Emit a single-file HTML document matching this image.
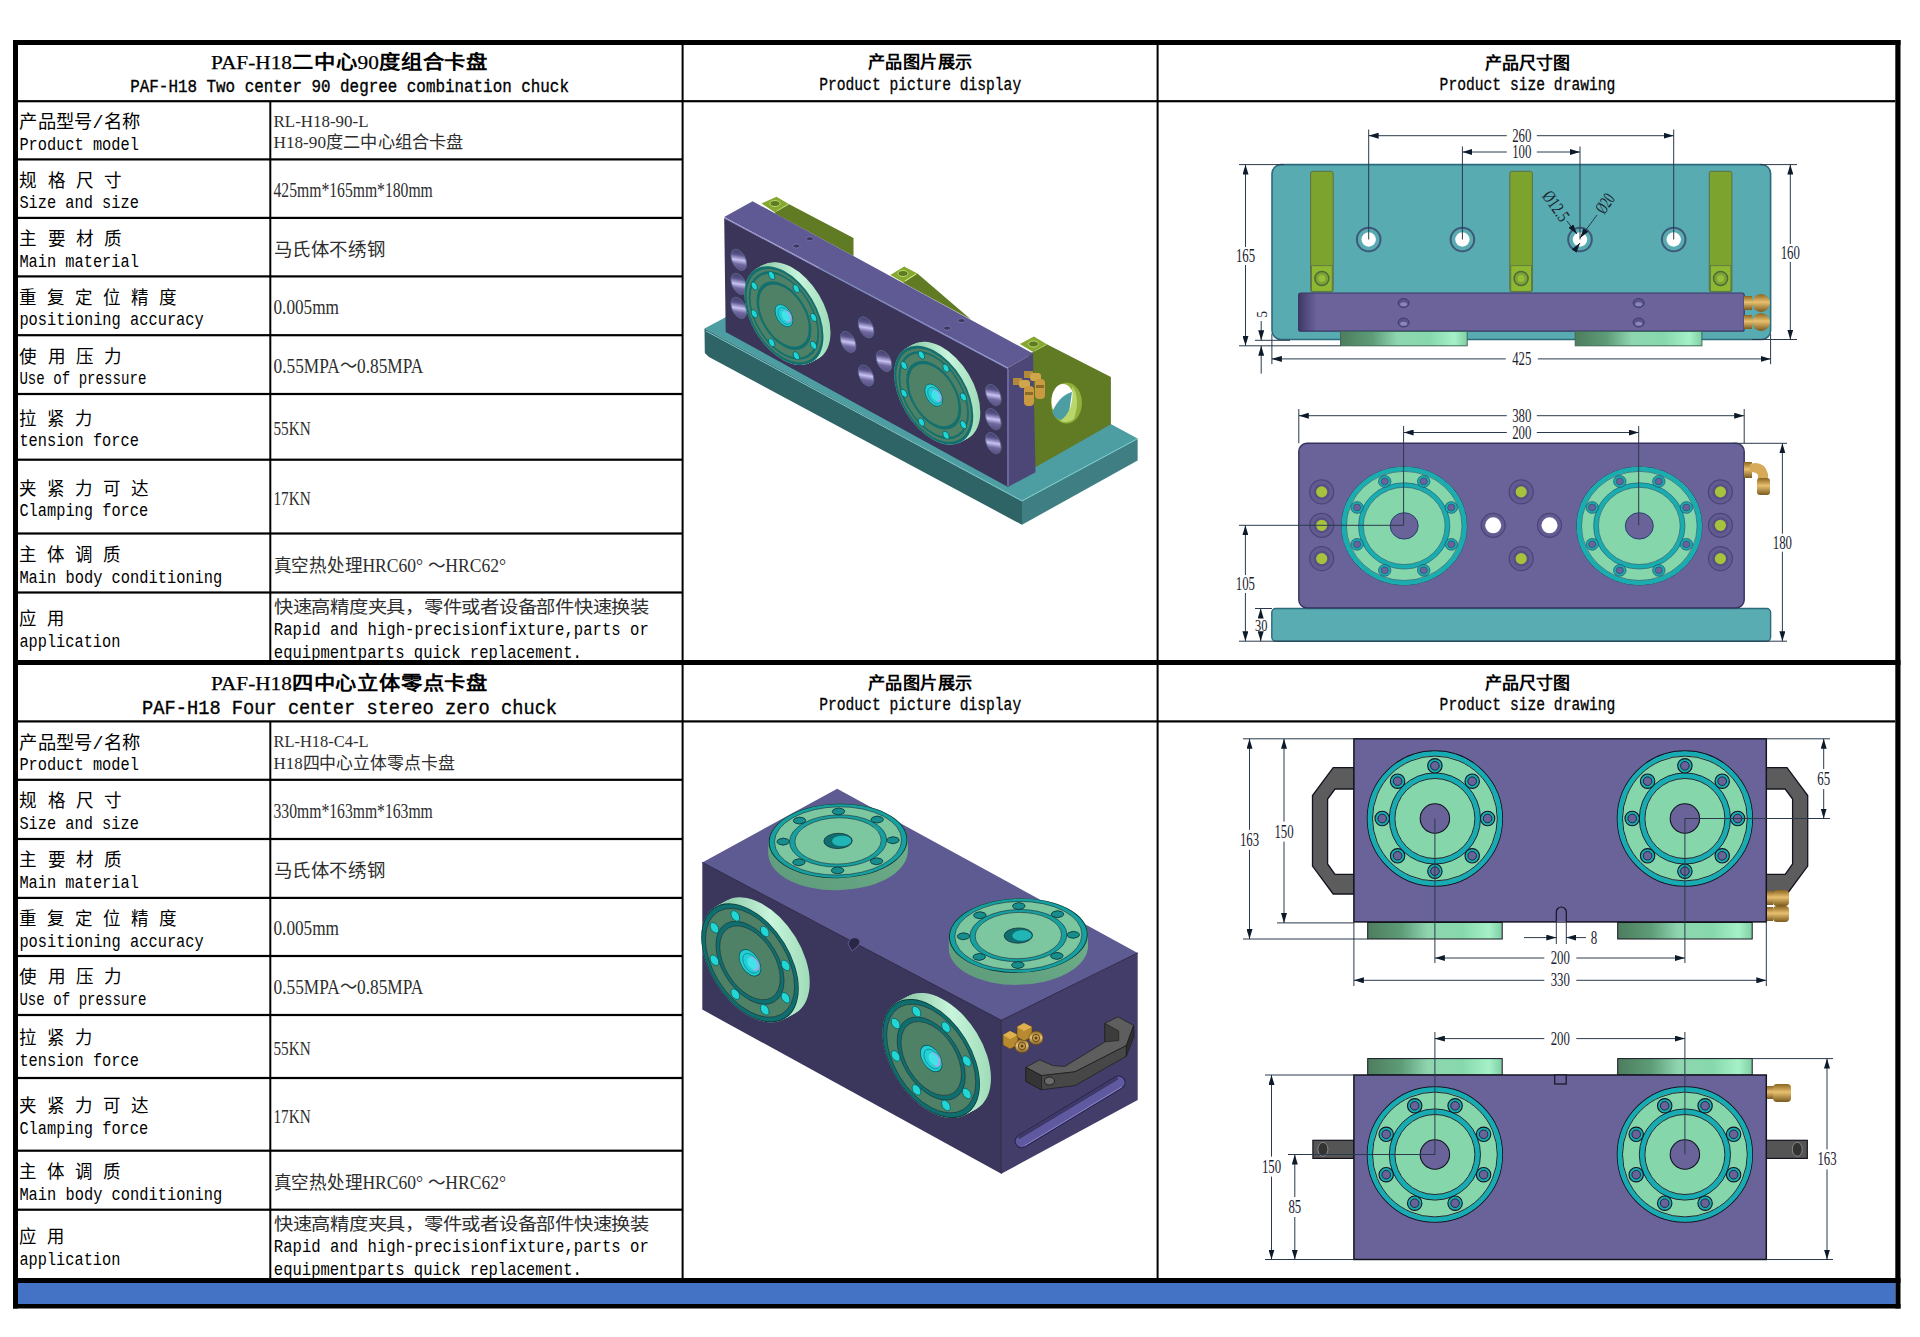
<!DOCTYPE html>
<html lang="zh-CN"><head><meta charset="utf-8"><title>PAF-H18</title>
<style>html,body{margin:0;padding:0;background:#fff;width:1920px;height:1337px;overflow:hidden}
svg{position:absolute;left:0;top:0;display:block}</style></head>
<body><svg width="1920" height="1337" viewBox="0 0 1920 1337">
<defs><linearGradient id="hole1" x1="0.2" y1="0" x2="0.5" y2="1"><stop offset="0" stop-color="#3e3965"/><stop offset="0.3" stop-color="#58528a"/><stop offset="0.55" stop-color="#c9c1f2"/><stop offset="0.75" stop-color="#70689f"/><stop offset="1" stop-color="#5a5288"/></linearGradient><linearGradient id="rim1" x1="0" y1="0" x2="1" y2="0"><stop offset="0" stop-color="#7fbf9a"/><stop offset="0.6" stop-color="#c8f5dc"/><stop offset="1" stop-color="#9fdcb8"/></linearGradient><linearGradient id="flg" x1="0" y1="0" x2="1" y2="0"><stop offset="0" stop-color="#4e7d5e"/><stop offset="0.25" stop-color="#5e9c78"/><stop offset="0.45" stop-color="#8fd6b0"/><stop offset="0.7" stop-color="#86d8ac"/><stop offset="0.9" stop-color="#a6f0c8"/><stop offset="1" stop-color="#7fcfa4"/></linearGradient>
<linearGradient id="pbar" x1="0" y1="0" x2="1" y2="0"><stop offset="0" stop-color="#3e3866"/><stop offset="0.04" stop-color="#6b6399"/><stop offset="1" stop-color="#6b6399"/></linearGradient>
<linearGradient id="brass" x1="0" y1="0" x2="0" y2="1"><stop offset="0" stop-color="#8a6420"/><stop offset="0.45" stop-color="#e8c070"/><stop offset="1" stop-color="#7a5a20"/></linearGradient>
<marker id="ar" viewBox="0 0 10 6" refX="10" refY="3" markerWidth="10" markerHeight="6" markerUnits="userSpaceOnUse" orient="auto"><path d="M0,0 L10,3 L0,6Z" fill="#0d1a2a"/></marker><marker id="arS" viewBox="0 0 10 6" refX="0" refY="3" markerWidth="10" markerHeight="6" markerUnits="userSpaceOnUse" orient="auto"><path d="M10,0 L0,3 L10,6Z" fill="#0d1a2a"/></marker><linearGradient id="rim2" x1="0" y1="0" x2="0" y2="1"><stop offset="0" stop-color="#5f9d7c"/><stop offset="1" stop-color="#6fb08c"/></linearGradient></defs>
<rect x="13.00" y="40.00" width="5.00" height="1268.50" fill="#000" />
<rect x="1895.30" y="40.00" width="5.20" height="1268.50" fill="#000" />
<rect x="13.00" y="40.00" width="1887.50" height="5.00" fill="#000" />
<rect x="13.00" y="1304.00" width="1887.50" height="4.50" fill="#000" />
<rect x="18.00" y="1283.00" width="1877.30" height="21.00" fill="#4472C4" />
<rect x="13.00" y="660.00" width="1887.50" height="5.00" fill="#000" />
<rect x="13.00" y="1278.00" width="1887.50" height="5.00" fill="#000" />
<rect x="18.00" y="100.10" width="1877.30" height="2.20" fill="#000" />
<rect x="18.00" y="720.30" width="1877.30" height="2.20" fill="#000" />
<rect x="18.00" y="158.30" width="664.50" height="2.20" fill="#000" />
<rect x="18.00" y="216.80" width="664.50" height="2.20" fill="#000" />
<rect x="18.00" y="275.30" width="664.50" height="2.20" fill="#000" />
<rect x="18.00" y="334.10" width="664.50" height="2.20" fill="#000" />
<rect x="18.00" y="392.90" width="664.50" height="2.20" fill="#000" />
<rect x="18.00" y="458.60" width="664.50" height="2.20" fill="#000" />
<rect x="18.00" y="532.40" width="664.50" height="2.20" fill="#000" />
<rect x="18.00" y="591.40" width="664.50" height="2.20" fill="#000" />
<rect x="18.00" y="778.70" width="664.50" height="2.20" fill="#000" />
<rect x="18.00" y="837.90" width="664.50" height="2.20" fill="#000" />
<rect x="18.00" y="896.80" width="664.50" height="2.20" fill="#000" />
<rect x="18.00" y="954.90" width="664.50" height="2.20" fill="#000" />
<rect x="18.00" y="1013.90" width="664.50" height="2.20" fill="#000" />
<rect x="18.00" y="1076.90" width="664.50" height="2.20" fill="#000" />
<rect x="18.00" y="1149.60" width="664.50" height="2.20" fill="#000" />
<rect x="18.00" y="1208.60" width="664.50" height="2.20" fill="#000" />
<rect x="269.30" y="101.00" width="2.00" height="559.00" fill="#000" />
<rect x="269.30" y="721.00" width="2.00" height="557.00" fill="#000" />
<rect x="681.60" y="45.00" width="2.00" height="615.00" fill="#000" />
<rect x="681.60" y="665.00" width="2.00" height="613.00" fill="#000" />
<rect x="1156.60" y="45.00" width="2.00" height="615.00" fill="#000" />
<rect x="1156.60" y="665.00" width="2.00" height="613.00" fill="#000" />
<polygon points="704.5,328.4 820.0,267.0 1137.6,438.4 1022.0,500.5" fill="#4c9ea2" />
<polygon points="704.5,328.4 1022.0,500.5 1022.0,524.8 709.0,357.0 704.8,353.0" fill="#2f6466" />
<polygon points="1022.0,500.5 1137.6,438.4 1137.6,460.4 1022.0,524.8" fill="#3f7f83" />
<path d="M706,331 L1022,501 L1137,439" stroke="#7cd0d4" stroke-width="1" fill="none"/>
<polygon points="761.5,203.5 776.5,196.7 789.2,204.2 775.0,212.4" fill="#86a832" />
<ellipse cx="775" cy="203.5" rx="5" ry="3" fill="#5f7a22" stroke="#c8e878" stroke-width="0.8"/><path d="M777,211 L788,204.5" stroke="#d0f080" stroke-width="1"/>
<polygon points="775.0,212.4 789.2,204.2 853.5,237.9 853.5,256.0 775.0,213.6" fill="#617a24" />
<polygon points="903.5,282.5 917.4,273.4 971.0,319.5 903.5,283.0" fill="#617a24" />
<polygon points="890.3,275.0 904.2,266.6 917.4,273.4 903.5,282.5" fill="#86a832" />
<ellipse cx="903" cy="273.5" rx="5" ry="3" fill="#5f7a22" stroke="#c8e878" stroke-width="0.8"/><path d="M905,281 L916,274" stroke="#d0f080" stroke-width="1"/>
<polygon points="1019.8,344.1 1033.9,336.6 1047.3,344.5 1033.1,352.0" fill="#86a832" />
<ellipse cx="1033.5" cy="344" rx="5" ry="3" fill="#5f7a22" stroke="#c8e878" stroke-width="0.8"/><path d="M1035,351 L1046,345" stroke="#d0f080" stroke-width="1"/>
<polygon points="1028.0,354.0 1033.1,352.0 1047.3,344.5 1110.9,377.1 1110.9,424.3 1036.3,466.7 1028.0,466.0" fill="#617a24" />
<ellipse cx="1066.5" cy="403" rx="15.5" ry="20.5" fill="#8fb03a"/>
<ellipse cx="1063" cy="401" rx="11.5" ry="17" fill="#ffffff"/>
<path d="M1052,412 Q1060,395 1072,392 L1068,420 Q1056,422 1052,412Z" fill="#4c9ea2"/>
<path d="M1072,386 Q1081,398 1074,419 Q1068,424 1060,421 Q1075,410 1072,386Z" fill="#b9d66a"/>
<polygon points="724.2,217.0 752.6,201.2 1033.0,353.6 1008.0,367.7" fill="#5f5a93" />
<polygon points="724.2,218.0 1008.0,368.7 1008.0,487.0 725.7,332.0" fill="#3a3559" />
<polygon points="1008.0,367.7 1033.0,353.6 1035.5,472.2 1008.0,487.0" fill="#4c4777" />
<path d="M724.5,218 L1008,368.5" stroke="#8a86c4" stroke-width="1.2" fill="none"/>
<path d="M1008,369 L1008,486" stroke="#6a66a0" stroke-width="2" fill="none"/>
<ellipse cx="796.4" cy="246" rx="3.6" ry="2" fill="#3d385f" stroke="#8a86c4" stroke-width="0.6"/>
<ellipse cx="809.8" cy="238.7" rx="3.6" ry="2" fill="#3d385f" stroke="#8a86c4" stroke-width="0.6"/>
<ellipse cx="947.2" cy="328.1" rx="3.6" ry="2" fill="#3d385f" stroke="#8a86c4" stroke-width="0.6"/>
<ellipse cx="961.5" cy="320.6" rx="3.6" ry="2" fill="#3d385f" stroke="#8a86c4" stroke-width="0.6"/>
<g transform="matrix(0.7466,0.3965,0,0.845,724.2,217)"><ellipse cx="19.5" cy="41.5" rx="10.5" ry="11.5" fill="url(#hole1)" stroke="#5a6a8a" stroke-width="1"/></g>
<g transform="matrix(0.7466,0.3965,0,0.845,724.2,217)"><ellipse cx="19.5" cy="70" rx="10.5" ry="11.5" fill="url(#hole1)" stroke="#5a6a8a" stroke-width="1"/></g>
<g transform="matrix(0.7466,0.3965,0,0.845,724.2,217)"><ellipse cx="19.5" cy="98.4" rx="10.5" ry="11.5" fill="url(#hole1)" stroke="#5a6a8a" stroke-width="1"/></g>
<g transform="matrix(0.7466,0.3965,0,0.845,724.2,217)"><ellipse cx="360.5" cy="41.5" rx="10.5" ry="11.5" fill="url(#hole1)" stroke="#5a6a8a" stroke-width="1"/></g>
<g transform="matrix(0.7466,0.3965,0,0.845,724.2,217)"><ellipse cx="360.5" cy="70" rx="10.5" ry="11.5" fill="url(#hole1)" stroke="#5a6a8a" stroke-width="1"/></g>
<g transform="matrix(0.7466,0.3965,0,0.845,724.2,217)"><ellipse cx="360.5" cy="98.4" rx="10.5" ry="11.5" fill="url(#hole1)" stroke="#5a6a8a" stroke-width="1"/></g>
<g transform="matrix(0.7466,0.3965,0,0.845,724.2,217)"><ellipse cx="166" cy="70" rx="10.5" ry="11.5" fill="url(#hole1)" stroke="#5a6a8a" stroke-width="1"/></g>
<g transform="matrix(0.7466,0.3965,0,0.845,724.2,217)"><ellipse cx="214" cy="70" rx="10.5" ry="11.5" fill="url(#hole1)" stroke="#5a6a8a" stroke-width="1"/></g>
<g transform="matrix(0.7466,0.3965,0,0.845,724.2,217)"><ellipse cx="190" cy="41.5" rx="10.5" ry="11.5" fill="url(#hole1)" stroke="#5a6a8a" stroke-width="1"/></g>
<g transform="matrix(0.7466,0.3965,0,0.845,724.2,217)"><ellipse cx="190" cy="98.4" rx="10.5" ry="11.5" fill="url(#hole1)" stroke="#5a6a8a" stroke-width="1"/></g>
<g transform="translate(-7.00,4.00)"><g transform="matrix(0.7466,0.3965,0,0.845,724.2,217)"><circle cx="89.4" cy="70" r="53" fill="url(#rim1)"/></g></g><g transform="translate(-6.12,3.50)"><g transform="matrix(0.7466,0.3965,0,0.845,724.2,217)"><circle cx="89.4" cy="70" r="53" fill="url(#rim1)"/></g></g><g transform="translate(-5.25,3.00)"><g transform="matrix(0.7466,0.3965,0,0.845,724.2,217)"><circle cx="89.4" cy="70" r="53" fill="url(#rim1)"/></g></g><g transform="translate(-4.38,2.50)"><g transform="matrix(0.7466,0.3965,0,0.845,724.2,217)"><circle cx="89.4" cy="70" r="53" fill="url(#rim1)"/></g></g><g transform="translate(-3.50,2.00)"><g transform="matrix(0.7466,0.3965,0,0.845,724.2,217)"><circle cx="89.4" cy="70" r="53" fill="url(#rim1)"/></g></g><g transform="translate(-2.62,1.50)"><g transform="matrix(0.7466,0.3965,0,0.845,724.2,217)"><circle cx="89.4" cy="70" r="53" fill="url(#rim1)"/></g></g><g transform="translate(-1.75,1.00)"><g transform="matrix(0.7466,0.3965,0,0.845,724.2,217)"><circle cx="89.4" cy="70" r="53" fill="url(#rim1)"/></g></g><g transform="translate(-0.88,0.50)"><g transform="matrix(0.7466,0.3965,0,0.845,724.2,217)"><circle cx="89.4" cy="70" r="53" fill="url(#rim1)"/></g></g><g transform="translate(-0.00,0.00)"><g transform="matrix(0.7466,0.3965,0,0.845,724.2,217)"><circle cx="89.4" cy="70" r="53" fill="url(#rim1)"/></g></g>
<g transform="translate(-7.00,4.00)"><g transform="matrix(0.7466,0.3965,0,0.845,724.2,217)"><circle cx="89.4" cy="70" r="53" fill="#13706f"/><circle cx="89.4" cy="70" r="50" fill="#4f8166"/><circle cx="89.4" cy="70" r="46" fill="none" stroke="#13706f" stroke-width="2.5"/><circle cx="89.4" cy="70" r="35" fill="none" stroke="#13706f" stroke-width="3.6"/><circle cx="129.13" cy="86.46" r="4.3" fill="#1fd6d6" stroke="#0e5f60" stroke-width="1"/><circle cx="105.86" cy="109.73" r="4.3" fill="#1fd6d6" stroke="#0e5f60" stroke-width="1"/><circle cx="72.94" cy="109.73" r="4.3" fill="#1fd6d6" stroke="#0e5f60" stroke-width="1"/><circle cx="49.67" cy="86.46" r="4.3" fill="#1fd6d6" stroke="#0e5f60" stroke-width="1"/><circle cx="49.67" cy="53.54" r="4.3" fill="#1fd6d6" stroke="#0e5f60" stroke-width="1"/><circle cx="72.94" cy="30.27" r="4.3" fill="#1fd6d6" stroke="#0e5f60" stroke-width="1"/><circle cx="105.86" cy="30.27" r="4.3" fill="#1fd6d6" stroke="#0e5f60" stroke-width="1"/><circle cx="129.13" cy="53.54" r="4.3" fill="#1fd6d6" stroke="#0e5f60" stroke-width="1"/><circle cx="89.4" cy="70" r="12" fill="#22cfd4" stroke="#0e5f60" stroke-width="0.9"/><circle cx="90.4" cy="70" r="9" fill="none" stroke="#108a90" stroke-width="0.8"/><circle cx="93.4" cy="69" r="6.5" fill="#a9a6e6"/><circle cx="91.9" cy="69.5" r="5.5" fill="#3fe3e8"/></g></g>
<g transform="translate(-7.00,4.00)"><g transform="matrix(0.7466,0.3965,0,0.845,724.2,217)"><circle cx="290" cy="70" r="53" fill="url(#rim1)"/></g></g><g transform="translate(-6.12,3.50)"><g transform="matrix(0.7466,0.3965,0,0.845,724.2,217)"><circle cx="290" cy="70" r="53" fill="url(#rim1)"/></g></g><g transform="translate(-5.25,3.00)"><g transform="matrix(0.7466,0.3965,0,0.845,724.2,217)"><circle cx="290" cy="70" r="53" fill="url(#rim1)"/></g></g><g transform="translate(-4.38,2.50)"><g transform="matrix(0.7466,0.3965,0,0.845,724.2,217)"><circle cx="290" cy="70" r="53" fill="url(#rim1)"/></g></g><g transform="translate(-3.50,2.00)"><g transform="matrix(0.7466,0.3965,0,0.845,724.2,217)"><circle cx="290" cy="70" r="53" fill="url(#rim1)"/></g></g><g transform="translate(-2.62,1.50)"><g transform="matrix(0.7466,0.3965,0,0.845,724.2,217)"><circle cx="290" cy="70" r="53" fill="url(#rim1)"/></g></g><g transform="translate(-1.75,1.00)"><g transform="matrix(0.7466,0.3965,0,0.845,724.2,217)"><circle cx="290" cy="70" r="53" fill="url(#rim1)"/></g></g><g transform="translate(-0.88,0.50)"><g transform="matrix(0.7466,0.3965,0,0.845,724.2,217)"><circle cx="290" cy="70" r="53" fill="url(#rim1)"/></g></g><g transform="translate(-0.00,0.00)"><g transform="matrix(0.7466,0.3965,0,0.845,724.2,217)"><circle cx="290" cy="70" r="53" fill="url(#rim1)"/></g></g>
<g transform="translate(-7.00,4.00)"><g transform="matrix(0.7466,0.3965,0,0.845,724.2,217)"><circle cx="290" cy="70" r="53" fill="#13706f"/><circle cx="290" cy="70" r="50" fill="#4f8166"/><circle cx="290" cy="70" r="46" fill="none" stroke="#13706f" stroke-width="2.5"/><circle cx="290" cy="70" r="35" fill="none" stroke="#13706f" stroke-width="3.6"/><circle cx="329.73" cy="86.46" r="4.3" fill="#1fd6d6" stroke="#0e5f60" stroke-width="1"/><circle cx="306.46" cy="109.73" r="4.3" fill="#1fd6d6" stroke="#0e5f60" stroke-width="1"/><circle cx="273.54" cy="109.73" r="4.3" fill="#1fd6d6" stroke="#0e5f60" stroke-width="1"/><circle cx="250.27" cy="86.46" r="4.3" fill="#1fd6d6" stroke="#0e5f60" stroke-width="1"/><circle cx="250.27" cy="53.54" r="4.3" fill="#1fd6d6" stroke="#0e5f60" stroke-width="1"/><circle cx="273.54" cy="30.27" r="4.3" fill="#1fd6d6" stroke="#0e5f60" stroke-width="1"/><circle cx="306.46" cy="30.27" r="4.3" fill="#1fd6d6" stroke="#0e5f60" stroke-width="1"/><circle cx="329.73" cy="53.54" r="4.3" fill="#1fd6d6" stroke="#0e5f60" stroke-width="1"/><circle cx="290" cy="70" r="12" fill="#22cfd4" stroke="#0e5f60" stroke-width="0.9"/><circle cx="291" cy="70" r="9" fill="none" stroke="#108a90" stroke-width="0.8"/><circle cx="294" cy="69" r="6.5" fill="#a9a6e6"/><circle cx="292.5" cy="69.5" r="5.5" fill="#3fe3e8"/></g></g>
<rect x="1013" y="378" width="9" height="7" fill="#b08a3a"/><rect x="1019" y="380" width="11" height="8" rx="3" fill="#d0a64c"/><rect x="1024" y="386" width="10" height="20" rx="4" fill="#c99a40"/><rect x="1025" y="392" width="8" height="3" fill="#8a6a2a"/>
<rect x="1024" y="371" width="9" height="7" fill="#b08a3a"/><rect x="1030" y="373" width="11" height="8" rx="3" fill="#d0a64c"/><rect x="1035" y="379" width="10" height="20" rx="4" fill="#c99a40"/><rect x="1036" y="385" width="8" height="3" fill="#8a6a2a"/>
<rect x="1272" y="164.6" width="498.6" height="174.9" rx="9" fill="#58abb0" stroke="#2c6a7c" stroke-width="1.6"/>
<rect x="1310.6" y="171.3" width="22.6" height="120.6" rx="2" fill="#7ba32e" stroke="#5b7048" stroke-width="1"/>
<rect x="1311.6" y="265.7" width="20.6" height="25.6" fill="#8db832" stroke="#5b7048" stroke-width="0.8"/>
<circle cx="1321.8999999999999" cy="278.5" r="7" fill="#7ea234" stroke="#4f6a3a" stroke-width="1.5"/><circle cx="1321.8999999999999" cy="278.5" r="3.5" fill="#93bf3a"/>
<rect x="1509.8" y="171.3" width="22.6" height="120.6" rx="2" fill="#7ba32e" stroke="#5b7048" stroke-width="1"/>
<rect x="1510.8" y="265.7" width="20.6" height="25.6" fill="#8db832" stroke="#5b7048" stroke-width="0.8"/>
<circle cx="1521.1" cy="278.5" r="7" fill="#7ea234" stroke="#4f6a3a" stroke-width="1.5"/><circle cx="1521.1" cy="278.5" r="3.5" fill="#93bf3a"/>
<rect x="1709.3" y="171.3" width="22.6" height="120.6" rx="2" fill="#7ba32e" stroke="#5b7048" stroke-width="1"/>
<rect x="1710.3" y="265.7" width="20.6" height="25.6" fill="#8db832" stroke="#5b7048" stroke-width="0.8"/>
<circle cx="1720.6" cy="278.5" r="7" fill="#7ea234" stroke="#4f6a3a" stroke-width="1.5"/><circle cx="1720.6" cy="278.5" r="3.5" fill="#93bf3a"/>
<rect x="1298.6" y="293" width="445.6" height="38.2" rx="2" fill="url(#pbar)" stroke="#3a3868" stroke-width="1.2"/>
<ellipse cx="1403.6" cy="303" rx="5.5" ry="4.5" fill="#5a5288" stroke="#3d3a6a" stroke-width="1"/><ellipse cx="1403.6" cy="304.3" rx="3.5" ry="2" fill="#8a84c0"/>
<ellipse cx="1403.6" cy="322.5" rx="5.5" ry="4.5" fill="#5a5288" stroke="#3d3a6a" stroke-width="1"/><ellipse cx="1403.6" cy="323.8" rx="3.5" ry="2" fill="#8a84c0"/>
<ellipse cx="1638.7" cy="303" rx="5.5" ry="4.5" fill="#5a5288" stroke="#3d3a6a" stroke-width="1"/><ellipse cx="1638.7" cy="304.3" rx="3.5" ry="2" fill="#8a84c0"/>
<ellipse cx="1638.7" cy="322.5" rx="5.5" ry="4.5" fill="#5a5288" stroke="#3d3a6a" stroke-width="1"/><ellipse cx="1638.7" cy="323.8" rx="3.5" ry="2" fill="#8a84c0"/>
<rect x="1340.5" y="331.5" width="126.7" height="14.3" fill="url(#flg)" stroke="#3e6a5a" stroke-width="1"/>
<rect x="1575.2" y="331.5" width="126.7" height="14.3" fill="url(#flg)" stroke="#3e6a5a" stroke-width="1"/>
<rect x="1744" y="296" width="8" height="14" fill="url(#brass)"/><circle cx="1761" cy="303" r="9" fill="url(#brass)"/>
<rect x="1744" y="315" width="8" height="14" fill="url(#brass)"/><circle cx="1761" cy="322" r="9" fill="url(#brass)"/>
<circle cx="1368.7" cy="239.5" r="11.8" fill="#58abb0" stroke="#3d5878" stroke-width="2"/><circle cx="1368.7" cy="239.5" r="7.2" fill="#fff"/>
<circle cx="1462.4" cy="239.5" r="11.8" fill="#58abb0" stroke="#3d5878" stroke-width="2"/><circle cx="1462.4" cy="239.5" r="7.2" fill="#fff"/>
<circle cx="1580" cy="239.5" r="11.8" fill="#58abb0" stroke="#3d5878" stroke-width="2"/><circle cx="1580" cy="239.5" r="7.2" fill="#fff"/>
<circle cx="1673.7" cy="239.5" r="11.8" fill="#58abb0" stroke="#3d5878" stroke-width="2"/><circle cx="1673.7" cy="239.5" r="7.2" fill="#fff"/>
<line x1="1368.7" y1="129.5" x2="1368.7" y2="239.5" stroke="#2a3a4c" stroke-width="1.0" />
<line x1="1673.7" y1="129.5" x2="1673.7" y2="239.5" stroke="#2a3a4c" stroke-width="1.0" />
<line x1="1462.4" y1="146.5" x2="1462.4" y2="239.5" stroke="#2a3a4c" stroke-width="1.0" />
<line x1="1580.0" y1="146.5" x2="1580.0" y2="239.5" stroke="#2a3a4c" stroke-width="1.0" />
<line x1="1368.7" y1="135.7" x2="1506.8" y2="135.7" stroke="#2a3a4c" stroke-width="1" marker-start="url(#arS)"/>
<line x1="1536.8" y1="135.7" x2="1673.7" y2="135.7" stroke="#2a3a4c" stroke-width="1" marker-end="url(#ar)"/>
<line x1="1462.4" y1="152.0" x2="1506.8" y2="152.0" stroke="#2a3a4c" stroke-width="1" marker-start="url(#arS)"/>
<line x1="1536.8" y1="152.0" x2="1580.0" y2="152.0" stroke="#2a3a4c" stroke-width="1" marker-end="url(#ar)"/>
<line x1="1239.0" y1="164.6" x2="1284.0" y2="164.6" stroke="#2a3a4c" stroke-width="1.0" />
<line x1="1760.0" y1="164.6" x2="1797.0" y2="164.6" stroke="#2a3a4c" stroke-width="1.0" />
<line x1="1239.0" y1="345.8" x2="1340.5" y2="345.8" stroke="#2a3a4c" stroke-width="1.0" />
<line x1="1255.0" y1="340.3" x2="1290.0" y2="340.3" stroke="#2a3a4c" stroke-width="1.0" />
<line x1="1752.0" y1="339.5" x2="1797.0" y2="339.5" stroke="#2a3a4c" stroke-width="1.0" />
<line x1="1245.5" y1="247.0" x2="1245.5" y2="164.6" stroke="#2a3a4c" stroke-width="1" marker-end="url(#ar)"/>
<line x1="1245.5" y1="265.0" x2="1245.5" y2="345.8" stroke="#2a3a4c" stroke-width="1" marker-end="url(#ar)"/>
<line x1="1790.3" y1="244.0" x2="1790.3" y2="164.6" stroke="#2a3a4c" stroke-width="1" marker-end="url(#ar)"/>
<line x1="1790.3" y1="262.0" x2="1790.3" y2="339.5" stroke="#2a3a4c" stroke-width="1" marker-end="url(#ar)"/>
<line x1="1271.9" y1="333.8" x2="1271.9" y2="364.2" stroke="#2a3a4c" stroke-width="1.0" />
<line x1="1770.6" y1="334.0" x2="1770.6" y2="364.2" stroke="#2a3a4c" stroke-width="1.0" />
<line x1="1271.9" y1="358.9" x2="1505.8" y2="358.9" stroke="#2a3a4c" stroke-width="1" marker-start="url(#arS)"/>
<line x1="1537.8" y1="358.9" x2="1770.6" y2="358.9" stroke="#2a3a4c" stroke-width="1" marker-end="url(#ar)"/>
<line x1="1261.2" y1="321.0" x2="1261.2" y2="340.3" stroke="#2a3a4c" stroke-width="1" marker-end="url(#ar)"/>
<line x1="1261.2" y1="373.6" x2="1261.2" y2="345.8" stroke="#2a3a4c" stroke-width="1" marker-end="url(#ar)"/>
<line x1="1567.0" y1="221.0" x2="1577.0" y2="234.0" stroke="#2a3a4c" stroke-width="1" marker-end="url(#ar)"/>
<line x1="1597.0" y1="215.0" x2="1580.0" y2="238.0" stroke="#2a3a4c" stroke-width="1" marker-end="url(#ar)"/>
<line x1="1574.0" y1="251.0" x2="1580.0" y2="243.0" stroke="#2a3a4c" stroke-width="1" marker-end="url(#ar)"/>
<rect x="1271.8" y="608.5" width="498.8" height="32.7" rx="4" fill="#59acb1" stroke="#2c6a7c" stroke-width="1.4"/>
<rect x="1298.8" y="443.3" width="445.4" height="164.6" rx="8" fill="#6a6399" stroke="#34315e" stroke-width="1.4"/>
<g transform="translate(1404.2,525.9) scale(1,0.944) translate(-1404.2,-525.9)">
<circle cx="1404.2" cy="525.9" r="62.8" fill="#86d6ac" stroke="#1d4a6a" stroke-width="0.9"/>
<circle cx="1404.2" cy="525.9" r="60.199999999999996" fill="none" stroke="#1aadb0" stroke-width="4.6"/>
<circle cx="1404.2" cy="525.9" r="57.8" fill="none" stroke="#1d4a6a" stroke-width="0.6"/>
<circle cx="1404.2" cy="525.9" r="43.3" fill="none" stroke="#1aadb0" stroke-width="4.6"/>
<circle cx="1404.2" cy="525.9" r="45.699999999999996" fill="none" stroke="#1d4a6a" stroke-width="0.6"/><circle cx="1404.2" cy="525.9" r="40.9" fill="none" stroke="#1d4a6a" stroke-width="0.6"/>
<circle cx="1404.2" cy="525.9" r="14" fill="#6a6399" stroke="#1d3a6a" stroke-width="0.9"/>
<circle cx="1451.3" cy="545.4" r="6.2" fill="#1aadb0" stroke="#1d4a6a" stroke-width="0.7"/><circle cx="1451.3" cy="545.4" r="3.6" fill="#6a6399" stroke="#1d4a6a" stroke-width="0.6"/>
<circle cx="1423.7" cy="573.0" r="6.2" fill="#1aadb0" stroke="#1d4a6a" stroke-width="0.7"/><circle cx="1423.7" cy="573.0" r="3.6" fill="#6a6399" stroke="#1d4a6a" stroke-width="0.6"/>
<circle cx="1451.3" cy="506.4" r="6.2" fill="#1aadb0" stroke="#1d4a6a" stroke-width="0.7"/><circle cx="1451.3" cy="506.4" r="3.6" fill="#6a6399" stroke="#1d4a6a" stroke-width="0.6"/>
<circle cx="1423.7" cy="478.8" r="6.2" fill="#1aadb0" stroke="#1d4a6a" stroke-width="0.7"/><circle cx="1423.7" cy="478.8" r="3.6" fill="#6a6399" stroke="#1d4a6a" stroke-width="0.6"/>
<circle cx="1357.1" cy="545.4" r="6.2" fill="#1aadb0" stroke="#1d4a6a" stroke-width="0.7"/><circle cx="1357.1" cy="545.4" r="3.6" fill="#6a6399" stroke="#1d4a6a" stroke-width="0.6"/>
<circle cx="1384.7" cy="573.0" r="6.2" fill="#1aadb0" stroke="#1d4a6a" stroke-width="0.7"/><circle cx="1384.7" cy="573.0" r="3.6" fill="#6a6399" stroke="#1d4a6a" stroke-width="0.6"/>
<circle cx="1357.1" cy="506.4" r="6.2" fill="#1aadb0" stroke="#1d4a6a" stroke-width="0.7"/><circle cx="1357.1" cy="506.4" r="3.6" fill="#6a6399" stroke="#1d4a6a" stroke-width="0.6"/>
<circle cx="1384.7" cy="478.8" r="6.2" fill="#1aadb0" stroke="#1d4a6a" stroke-width="0.7"/><circle cx="1384.7" cy="478.8" r="3.6" fill="#6a6399" stroke="#1d4a6a" stroke-width="0.6"/>
</g>
<g transform="translate(1639.3,525.9) scale(1,0.944) translate(-1639.3,-525.9)">
<circle cx="1639.3" cy="525.9" r="62.8" fill="#86d6ac" stroke="#1d4a6a" stroke-width="0.9"/>
<circle cx="1639.3" cy="525.9" r="60.199999999999996" fill="none" stroke="#1aadb0" stroke-width="4.6"/>
<circle cx="1639.3" cy="525.9" r="57.8" fill="none" stroke="#1d4a6a" stroke-width="0.6"/>
<circle cx="1639.3" cy="525.9" r="43.3" fill="none" stroke="#1aadb0" stroke-width="4.6"/>
<circle cx="1639.3" cy="525.9" r="45.699999999999996" fill="none" stroke="#1d4a6a" stroke-width="0.6"/><circle cx="1639.3" cy="525.9" r="40.9" fill="none" stroke="#1d4a6a" stroke-width="0.6"/>
<circle cx="1639.3" cy="525.9" r="14" fill="#6a6399" stroke="#1d3a6a" stroke-width="0.9"/>
<circle cx="1686.4" cy="545.4" r="6.2" fill="#1aadb0" stroke="#1d4a6a" stroke-width="0.7"/><circle cx="1686.4" cy="545.4" r="3.6" fill="#6a6399" stroke="#1d4a6a" stroke-width="0.6"/>
<circle cx="1658.8" cy="573.0" r="6.2" fill="#1aadb0" stroke="#1d4a6a" stroke-width="0.7"/><circle cx="1658.8" cy="573.0" r="3.6" fill="#6a6399" stroke="#1d4a6a" stroke-width="0.6"/>
<circle cx="1686.4" cy="506.4" r="6.2" fill="#1aadb0" stroke="#1d4a6a" stroke-width="0.7"/><circle cx="1686.4" cy="506.4" r="3.6" fill="#6a6399" stroke="#1d4a6a" stroke-width="0.6"/>
<circle cx="1658.8" cy="478.8" r="6.2" fill="#1aadb0" stroke="#1d4a6a" stroke-width="0.7"/><circle cx="1658.8" cy="478.8" r="3.6" fill="#6a6399" stroke="#1d4a6a" stroke-width="0.6"/>
<circle cx="1592.2" cy="545.4" r="6.2" fill="#1aadb0" stroke="#1d4a6a" stroke-width="0.7"/><circle cx="1592.2" cy="545.4" r="3.6" fill="#6a6399" stroke="#1d4a6a" stroke-width="0.6"/>
<circle cx="1619.8" cy="573.0" r="6.2" fill="#1aadb0" stroke="#1d4a6a" stroke-width="0.7"/><circle cx="1619.8" cy="573.0" r="3.6" fill="#6a6399" stroke="#1d4a6a" stroke-width="0.6"/>
<circle cx="1592.2" cy="506.4" r="6.2" fill="#1aadb0" stroke="#1d4a6a" stroke-width="0.7"/><circle cx="1592.2" cy="506.4" r="3.6" fill="#6a6399" stroke="#1d4a6a" stroke-width="0.6"/>
<circle cx="1619.8" cy="478.8" r="6.2" fill="#1aadb0" stroke="#1d4a6a" stroke-width="0.7"/><circle cx="1619.8" cy="478.8" r="3.6" fill="#6a6399" stroke="#1d4a6a" stroke-width="0.6"/>
</g>
<circle cx="1321.7" cy="491.9" r="12" fill="#625b92" stroke="#4a4478" stroke-width="1.2"/><circle cx="1321.7" cy="491.9" r="8" fill="#564f86"/><circle cx="1321.7" cy="491.9" r="5.6" fill="#a7c23c"/>
<circle cx="1321.7" cy="525.3" r="12" fill="#625b92" stroke="#4a4478" stroke-width="1.2"/><circle cx="1321.7" cy="525.3" r="8" fill="#564f86"/><circle cx="1321.7" cy="525.3" r="5.6" fill="#a7c23c"/>
<circle cx="1321.7" cy="558.6" r="12" fill="#625b92" stroke="#4a4478" stroke-width="1.2"/><circle cx="1321.7" cy="558.6" r="8" fill="#564f86"/><circle cx="1321.7" cy="558.6" r="5.6" fill="#a7c23c"/>
<circle cx="1720.4" cy="491.9" r="12" fill="#625b92" stroke="#4a4478" stroke-width="1.2"/><circle cx="1720.4" cy="491.9" r="8" fill="#564f86"/><circle cx="1720.4" cy="491.9" r="5.6" fill="#a7c23c"/>
<circle cx="1720.4" cy="525.3" r="12" fill="#625b92" stroke="#4a4478" stroke-width="1.2"/><circle cx="1720.4" cy="525.3" r="8" fill="#564f86"/><circle cx="1720.4" cy="525.3" r="5.6" fill="#a7c23c"/>
<circle cx="1720.4" cy="558.6" r="12" fill="#625b92" stroke="#4a4478" stroke-width="1.2"/><circle cx="1720.4" cy="558.6" r="8" fill="#564f86"/><circle cx="1720.4" cy="558.6" r="5.6" fill="#a7c23c"/>
<circle cx="1521.2" cy="491.9" r="12" fill="#625b92" stroke="#4a4478" stroke-width="1.2"/><circle cx="1521.2" cy="491.9" r="8" fill="#564f86"/><circle cx="1521.2" cy="491.9" r="5.6" fill="#a7c23c"/>
<circle cx="1521.2" cy="558.6" r="12" fill="#625b92" stroke="#4a4478" stroke-width="1.2"/><circle cx="1521.2" cy="558.6" r="8" fill="#564f86"/><circle cx="1521.2" cy="558.6" r="5.6" fill="#a7c23c"/>
<circle cx="1493.2" cy="525.3" r="12" fill="#625b92" stroke="#4a4478" stroke-width="1.2"/><circle cx="1493.2" cy="525.3" r="8" fill="#fff"/>
<circle cx="1549.5" cy="525.3" r="12" fill="#625b92" stroke="#4a4478" stroke-width="1.2"/><circle cx="1549.5" cy="525.3" r="8" fill="#fff"/>
<path d="M1744,462 h8 v16 h-8z" fill="url(#brass)"/><path d="M1750,464 q14,-4 18,10 v6 h-10 v-4 q0,-4 -8,-4z" fill="#d6aa58"/><rect x="1757" y="478" width="13" height="17" rx="3" fill="url(#brass)"/>
<line x1="1298.8" y1="409.0" x2="1298.8" y2="443.3" stroke="#2a3a4c" stroke-width="1.0" />
<line x1="1744.2" y1="409.0" x2="1744.2" y2="443.3" stroke="#2a3a4c" stroke-width="1.0" />
<line x1="1298.8" y1="415.7" x2="1506.8" y2="415.7" stroke="#2a3a4c" stroke-width="1" marker-start="url(#arS)"/>
<line x1="1536.8" y1="415.7" x2="1744.2" y2="415.7" stroke="#2a3a4c" stroke-width="1" marker-end="url(#ar)"/>
<line x1="1403.6" y1="426.0" x2="1403.6" y2="525.3" stroke="#2a3a4c" stroke-width="1.0" />
<line x1="1638.7" y1="426.0" x2="1638.7" y2="525.3" stroke="#2a3a4c" stroke-width="1.0" />
<line x1="1403.6" y1="432.5" x2="1506.8" y2="432.5" stroke="#2a3a4c" stroke-width="1" marker-start="url(#arS)"/>
<line x1="1536.8" y1="432.5" x2="1638.7" y2="432.5" stroke="#2a3a4c" stroke-width="1" marker-end="url(#ar)"/>
<line x1="1733.0" y1="443.3" x2="1787.0" y2="443.3" stroke="#2a3a4c" stroke-width="1.0" />
<line x1="1239.0" y1="641.2" x2="1787.0" y2="641.2" stroke="#2a3a4c" stroke-width="1.0" />
<line x1="1782.4" y1="533.7" x2="1782.4" y2="443.3" stroke="#2a3a4c" stroke-width="1" marker-end="url(#ar)"/>
<line x1="1782.4" y1="551.7" x2="1782.4" y2="641.2" stroke="#2a3a4c" stroke-width="1" marker-end="url(#ar)"/>
<line x1="1239.0" y1="525.3" x2="1403.6" y2="525.3" stroke="#2a3a4c" stroke-width="1.0" />
<line x1="1245.4" y1="575.0" x2="1245.4" y2="525.3" stroke="#2a3a4c" stroke-width="1" marker-end="url(#ar)"/>
<line x1="1245.4" y1="593.0" x2="1245.4" y2="641.2" stroke="#2a3a4c" stroke-width="1" marker-end="url(#ar)"/>
<line x1="1255.0" y1="608.5" x2="1272.0" y2="608.5" stroke="#2a3a4c" stroke-width="1.0" />
<line x1="1260.7" y1="618.0" x2="1260.7" y2="608.5" stroke="#2a3a4c" stroke-width="1" marker-end="url(#ar)"/>
<line x1="1260.7" y1="632.0" x2="1260.7" y2="641.2" stroke="#2a3a4c" stroke-width="1" marker-end="url(#ar)"/>
<polygon points="702.3,862.4 837.2,788.8 1137.7,952.9 1001.3,1020.3" fill="#5e5a92" />
<polygon points="702.3,862.4 1001.3,1020.3 1001.3,1173.7 702.3,1009.6" fill="#3b365c" />
<polygon points="1001.3,1020.3 1137.7,952.9 1137.7,1100.1 1001.3,1173.7" fill="#433e69" />
<path d="M702.3,862.4 L1001.3,1020.3 L1137.7,952.9" stroke="#2a2645" stroke-width="1" fill="none"/>
<path d="M1001.3,1020.3 L1001.3,1173.7" stroke="#2a2645" stroke-width="1" fill="none"/>
<g transform="translate(0.00,-12.00)"><g transform="matrix(0.906,0.4785,0.9208,-0.5024,702.3,862.4)"><circle cx="66.4" cy="82.1" r="53.8" fill="url(#rim2)"/></g></g><g transform="translate(0.00,-10.80)"><g transform="matrix(0.906,0.4785,0.9208,-0.5024,702.3,862.4)"><circle cx="66.4" cy="82.1" r="53.8" fill="url(#rim2)"/></g></g><g transform="translate(0.00,-9.60)"><g transform="matrix(0.906,0.4785,0.9208,-0.5024,702.3,862.4)"><circle cx="66.4" cy="82.1" r="53.8" fill="url(#rim2)"/></g></g><g transform="translate(0.00,-8.40)"><g transform="matrix(0.906,0.4785,0.9208,-0.5024,702.3,862.4)"><circle cx="66.4" cy="82.1" r="53.8" fill="url(#rim2)"/></g></g><g transform="translate(0.00,-7.20)"><g transform="matrix(0.906,0.4785,0.9208,-0.5024,702.3,862.4)"><circle cx="66.4" cy="82.1" r="53.8" fill="url(#rim2)"/></g></g><g transform="translate(0.00,-6.00)"><g transform="matrix(0.906,0.4785,0.9208,-0.5024,702.3,862.4)"><circle cx="66.4" cy="82.1" r="53.8" fill="url(#rim2)"/></g></g><g transform="translate(0.00,-4.80)"><g transform="matrix(0.906,0.4785,0.9208,-0.5024,702.3,862.4)"><circle cx="66.4" cy="82.1" r="53.8" fill="url(#rim2)"/></g></g><g transform="translate(0.00,-3.60)"><g transform="matrix(0.906,0.4785,0.9208,-0.5024,702.3,862.4)"><circle cx="66.4" cy="82.1" r="53.8" fill="url(#rim2)"/></g></g><g transform="translate(0.00,-2.40)"><g transform="matrix(0.906,0.4785,0.9208,-0.5024,702.3,862.4)"><circle cx="66.4" cy="82.1" r="53.8" fill="url(#rim2)"/></g></g><g transform="translate(0.00,-1.20)"><g transform="matrix(0.906,0.4785,0.9208,-0.5024,702.3,862.4)"><circle cx="66.4" cy="82.1" r="53.8" fill="url(#rim2)"/></g></g><g transform="translate(0.00,-0.00)"><g transform="matrix(0.906,0.4785,0.9208,-0.5024,702.3,862.4)"><circle cx="66.4" cy="82.1" r="53.8" fill="url(#rim2)"/></g></g>
<g transform="translate(0.00,-12.00)"><g transform="matrix(0.906,0.4785,0.9208,-0.5024,702.3,862.4)"><circle cx="66.4" cy="82.1" r="53.8" fill="#0e3a3a"/><circle cx="66.4" cy="82.1" r="53" fill="#17a0a0"/><circle cx="66.4" cy="82.1" r="49.2" fill="#7cc6a0" stroke="#123" stroke-width="0.5"/><circle cx="66.4" cy="82.1" r="35.5" fill="none" stroke="#17a0a0" stroke-width="4"/><circle cx="66.4" cy="82.1" r="37.6" fill="none" stroke="#123" stroke-width="0.5"/><circle cx="66.4" cy="82.1" r="33.4" fill="none" stroke="#123" stroke-width="0.5"/><circle cx="108.90" cy="82.10" r="4.8" fill="#178d8d" stroke="#0a3f40" stroke-width="0.8"/><circle cx="96.45" cy="112.15" r="4.8" fill="#178d8d" stroke="#0a3f40" stroke-width="0.8"/><circle cx="66.40" cy="124.60" r="4.8" fill="#178d8d" stroke="#0a3f40" stroke-width="0.8"/><circle cx="36.35" cy="112.15" r="4.8" fill="#178d8d" stroke="#0a3f40" stroke-width="0.8"/><circle cx="23.90" cy="82.10" r="4.8" fill="#178d8d" stroke="#0a3f40" stroke-width="0.8"/><circle cx="36.35" cy="52.05" r="4.8" fill="#178d8d" stroke="#0a3f40" stroke-width="0.8"/><circle cx="66.40" cy="39.60" r="4.8" fill="#178d8d" stroke="#0a3f40" stroke-width="0.8"/><circle cx="96.45" cy="52.05" r="4.8" fill="#178d8d" stroke="#0a3f40" stroke-width="0.8"/><circle cx="66.4" cy="82.1" r="11" fill="#0f6f6f" stroke="#123" stroke-width="0.6"/><circle cx="68.4" cy="84.1" r="7.5" fill="#22b5b5"/></g></g>
<g transform="translate(0.00,-12.00)"><g transform="matrix(0.906,0.4785,0.9208,-0.5024,702.3,862.4)"><circle cx="264.8" cy="82.7" r="53.8" fill="url(#rim2)"/></g></g><g transform="translate(0.00,-10.80)"><g transform="matrix(0.906,0.4785,0.9208,-0.5024,702.3,862.4)"><circle cx="264.8" cy="82.7" r="53.8" fill="url(#rim2)"/></g></g><g transform="translate(0.00,-9.60)"><g transform="matrix(0.906,0.4785,0.9208,-0.5024,702.3,862.4)"><circle cx="264.8" cy="82.7" r="53.8" fill="url(#rim2)"/></g></g><g transform="translate(0.00,-8.40)"><g transform="matrix(0.906,0.4785,0.9208,-0.5024,702.3,862.4)"><circle cx="264.8" cy="82.7" r="53.8" fill="url(#rim2)"/></g></g><g transform="translate(0.00,-7.20)"><g transform="matrix(0.906,0.4785,0.9208,-0.5024,702.3,862.4)"><circle cx="264.8" cy="82.7" r="53.8" fill="url(#rim2)"/></g></g><g transform="translate(0.00,-6.00)"><g transform="matrix(0.906,0.4785,0.9208,-0.5024,702.3,862.4)"><circle cx="264.8" cy="82.7" r="53.8" fill="url(#rim2)"/></g></g><g transform="translate(0.00,-4.80)"><g transform="matrix(0.906,0.4785,0.9208,-0.5024,702.3,862.4)"><circle cx="264.8" cy="82.7" r="53.8" fill="url(#rim2)"/></g></g><g transform="translate(0.00,-3.60)"><g transform="matrix(0.906,0.4785,0.9208,-0.5024,702.3,862.4)"><circle cx="264.8" cy="82.7" r="53.8" fill="url(#rim2)"/></g></g><g transform="translate(0.00,-2.40)"><g transform="matrix(0.906,0.4785,0.9208,-0.5024,702.3,862.4)"><circle cx="264.8" cy="82.7" r="53.8" fill="url(#rim2)"/></g></g><g transform="translate(0.00,-1.20)"><g transform="matrix(0.906,0.4785,0.9208,-0.5024,702.3,862.4)"><circle cx="264.8" cy="82.7" r="53.8" fill="url(#rim2)"/></g></g><g transform="translate(0.00,-0.00)"><g transform="matrix(0.906,0.4785,0.9208,-0.5024,702.3,862.4)"><circle cx="264.8" cy="82.7" r="53.8" fill="url(#rim2)"/></g></g>
<g transform="translate(0.00,-12.00)"><g transform="matrix(0.906,0.4785,0.9208,-0.5024,702.3,862.4)"><circle cx="264.8" cy="82.7" r="53.8" fill="#0e3a3a"/><circle cx="264.8" cy="82.7" r="53" fill="#17a0a0"/><circle cx="264.8" cy="82.7" r="49.2" fill="#7cc6a0" stroke="#123" stroke-width="0.5"/><circle cx="264.8" cy="82.7" r="35.5" fill="none" stroke="#17a0a0" stroke-width="4"/><circle cx="264.8" cy="82.7" r="37.6" fill="none" stroke="#123" stroke-width="0.5"/><circle cx="264.8" cy="82.7" r="33.4" fill="none" stroke="#123" stroke-width="0.5"/><circle cx="307.30" cy="82.70" r="4.8" fill="#178d8d" stroke="#0a3f40" stroke-width="0.8"/><circle cx="294.85" cy="112.75" r="4.8" fill="#178d8d" stroke="#0a3f40" stroke-width="0.8"/><circle cx="264.80" cy="125.20" r="4.8" fill="#178d8d" stroke="#0a3f40" stroke-width="0.8"/><circle cx="234.75" cy="112.75" r="4.8" fill="#178d8d" stroke="#0a3f40" stroke-width="0.8"/><circle cx="222.30" cy="82.70" r="4.8" fill="#178d8d" stroke="#0a3f40" stroke-width="0.8"/><circle cx="234.75" cy="52.65" r="4.8" fill="#178d8d" stroke="#0a3f40" stroke-width="0.8"/><circle cx="264.80" cy="40.20" r="4.8" fill="#178d8d" stroke="#0a3f40" stroke-width="0.8"/><circle cx="294.85" cy="52.65" r="4.8" fill="#178d8d" stroke="#0a3f40" stroke-width="0.8"/><circle cx="264.8" cy="82.7" r="11" fill="#0f6f6f" stroke="#123" stroke-width="0.6"/><circle cx="266.8" cy="84.7" r="7.5" fill="#22b5b5"/></g></g>
<g transform="translate(-11.00,6.00)"><g transform="matrix(0.906,0.4785,0,0.997,702.3,862.4)"><circle cx="64.8" cy="63.6" r="53.8" fill="url(#rim1)"/></g></g><g transform="translate(-9.90,5.40)"><g transform="matrix(0.906,0.4785,0,0.997,702.3,862.4)"><circle cx="64.8" cy="63.6" r="53.8" fill="url(#rim1)"/></g></g><g transform="translate(-8.80,4.80)"><g transform="matrix(0.906,0.4785,0,0.997,702.3,862.4)"><circle cx="64.8" cy="63.6" r="53.8" fill="url(#rim1)"/></g></g><g transform="translate(-7.70,4.20)"><g transform="matrix(0.906,0.4785,0,0.997,702.3,862.4)"><circle cx="64.8" cy="63.6" r="53.8" fill="url(#rim1)"/></g></g><g transform="translate(-6.60,3.60)"><g transform="matrix(0.906,0.4785,0,0.997,702.3,862.4)"><circle cx="64.8" cy="63.6" r="53.8" fill="url(#rim1)"/></g></g><g transform="translate(-5.50,3.00)"><g transform="matrix(0.906,0.4785,0,0.997,702.3,862.4)"><circle cx="64.8" cy="63.6" r="53.8" fill="url(#rim1)"/></g></g><g transform="translate(-4.40,2.40)"><g transform="matrix(0.906,0.4785,0,0.997,702.3,862.4)"><circle cx="64.8" cy="63.6" r="53.8" fill="url(#rim1)"/></g></g><g transform="translate(-3.30,1.80)"><g transform="matrix(0.906,0.4785,0,0.997,702.3,862.4)"><circle cx="64.8" cy="63.6" r="53.8" fill="url(#rim1)"/></g></g><g transform="translate(-2.20,1.20)"><g transform="matrix(0.906,0.4785,0,0.997,702.3,862.4)"><circle cx="64.8" cy="63.6" r="53.8" fill="url(#rim1)"/></g></g><g transform="translate(-1.10,0.60)"><g transform="matrix(0.906,0.4785,0,0.997,702.3,862.4)"><circle cx="64.8" cy="63.6" r="53.8" fill="url(#rim1)"/></g></g><g transform="translate(-0.00,0.00)"><g transform="matrix(0.906,0.4785,0,0.997,702.3,862.4)"><circle cx="64.8" cy="63.6" r="53.8" fill="url(#rim1)"/></g></g>
<g transform="translate(-11.00,6.00)"><g transform="matrix(0.906,0.4785,0,0.997,702.3,862.4)"><circle cx="64.8" cy="63.6" r="53.8" fill="#0e3a3a"/><circle cx="64.8" cy="63.6" r="53" fill="#0f6e6e"/><circle cx="64.8" cy="63.6" r="49.2" fill="#4f8166" stroke="#123" stroke-width="0.5"/><circle cx="64.8" cy="63.6" r="35.5" fill="none" stroke="#0f6e6e" stroke-width="4"/><circle cx="64.8" cy="63.6" r="37.6" fill="none" stroke="#123" stroke-width="0.5"/><circle cx="64.8" cy="63.6" r="33.4" fill="none" stroke="#123" stroke-width="0.5"/><circle cx="104.06" cy="79.86" r="4.8" fill="#22d6d6" stroke="#0c5f60" stroke-width="0.8"/><circle cx="81.06" cy="102.86" r="4.8" fill="#22d6d6" stroke="#0c5f60" stroke-width="0.8"/><circle cx="48.54" cy="102.86" r="4.8" fill="#22d6d6" stroke="#0c5f60" stroke-width="0.8"/><circle cx="25.54" cy="79.86" r="4.8" fill="#22d6d6" stroke="#0c5f60" stroke-width="0.8"/><circle cx="25.54" cy="47.34" r="4.8" fill="#22d6d6" stroke="#0c5f60" stroke-width="0.8"/><circle cx="48.54" cy="24.34" r="4.8" fill="#22d6d6" stroke="#0c5f60" stroke-width="0.8"/><circle cx="81.06" cy="24.34" r="4.8" fill="#22d6d6" stroke="#0c5f60" stroke-width="0.8"/><circle cx="104.06" cy="47.34" r="4.8" fill="#22d6d6" stroke="#0c5f60" stroke-width="0.8"/><circle cx="64.8" cy="63.6" r="12" fill="#22cfd4" stroke="#0e5f60" stroke-width="0.9"/><circle cx="65.8" cy="63.6" r="9" fill="none" stroke="#108a90" stroke-width="0.8"/><circle cx="68.8" cy="62.6" r="6.5" fill="#a9a6e6"/><circle cx="67.3" cy="63.1" r="5.5" fill="#3fe3e8"/></g></g>
<g transform="translate(-11.00,6.00)"><g transform="matrix(0.906,0.4785,0,0.997,702.3,862.4)"><circle cx="264.8" cy="63.6" r="53.8" fill="url(#rim1)"/></g></g><g transform="translate(-9.90,5.40)"><g transform="matrix(0.906,0.4785,0,0.997,702.3,862.4)"><circle cx="264.8" cy="63.6" r="53.8" fill="url(#rim1)"/></g></g><g transform="translate(-8.80,4.80)"><g transform="matrix(0.906,0.4785,0,0.997,702.3,862.4)"><circle cx="264.8" cy="63.6" r="53.8" fill="url(#rim1)"/></g></g><g transform="translate(-7.70,4.20)"><g transform="matrix(0.906,0.4785,0,0.997,702.3,862.4)"><circle cx="264.8" cy="63.6" r="53.8" fill="url(#rim1)"/></g></g><g transform="translate(-6.60,3.60)"><g transform="matrix(0.906,0.4785,0,0.997,702.3,862.4)"><circle cx="264.8" cy="63.6" r="53.8" fill="url(#rim1)"/></g></g><g transform="translate(-5.50,3.00)"><g transform="matrix(0.906,0.4785,0,0.997,702.3,862.4)"><circle cx="264.8" cy="63.6" r="53.8" fill="url(#rim1)"/></g></g><g transform="translate(-4.40,2.40)"><g transform="matrix(0.906,0.4785,0,0.997,702.3,862.4)"><circle cx="264.8" cy="63.6" r="53.8" fill="url(#rim1)"/></g></g><g transform="translate(-3.30,1.80)"><g transform="matrix(0.906,0.4785,0,0.997,702.3,862.4)"><circle cx="264.8" cy="63.6" r="53.8" fill="url(#rim1)"/></g></g><g transform="translate(-2.20,1.20)"><g transform="matrix(0.906,0.4785,0,0.997,702.3,862.4)"><circle cx="264.8" cy="63.6" r="53.8" fill="url(#rim1)"/></g></g><g transform="translate(-1.10,0.60)"><g transform="matrix(0.906,0.4785,0,0.997,702.3,862.4)"><circle cx="264.8" cy="63.6" r="53.8" fill="url(#rim1)"/></g></g><g transform="translate(-0.00,0.00)"><g transform="matrix(0.906,0.4785,0,0.997,702.3,862.4)"><circle cx="264.8" cy="63.6" r="53.8" fill="url(#rim1)"/></g></g>
<g transform="translate(-11.00,6.00)"><g transform="matrix(0.906,0.4785,0,0.997,702.3,862.4)"><circle cx="264.8" cy="63.6" r="53.8" fill="#0e3a3a"/><circle cx="264.8" cy="63.6" r="53" fill="#0f6e6e"/><circle cx="264.8" cy="63.6" r="49.2" fill="#4f8166" stroke="#123" stroke-width="0.5"/><circle cx="264.8" cy="63.6" r="35.5" fill="none" stroke="#0f6e6e" stroke-width="4"/><circle cx="264.8" cy="63.6" r="37.6" fill="none" stroke="#123" stroke-width="0.5"/><circle cx="264.8" cy="63.6" r="33.4" fill="none" stroke="#123" stroke-width="0.5"/><circle cx="304.06" cy="79.86" r="4.8" fill="#22d6d6" stroke="#0c5f60" stroke-width="0.8"/><circle cx="281.06" cy="102.86" r="4.8" fill="#22d6d6" stroke="#0c5f60" stroke-width="0.8"/><circle cx="248.54" cy="102.86" r="4.8" fill="#22d6d6" stroke="#0c5f60" stroke-width="0.8"/><circle cx="225.54" cy="79.86" r="4.8" fill="#22d6d6" stroke="#0c5f60" stroke-width="0.8"/><circle cx="225.54" cy="47.34" r="4.8" fill="#22d6d6" stroke="#0c5f60" stroke-width="0.8"/><circle cx="248.54" cy="24.34" r="4.8" fill="#22d6d6" stroke="#0c5f60" stroke-width="0.8"/><circle cx="281.06" cy="24.34" r="4.8" fill="#22d6d6" stroke="#0c5f60" stroke-width="0.8"/><circle cx="304.06" cy="47.34" r="4.8" fill="#22d6d6" stroke="#0c5f60" stroke-width="0.8"/><circle cx="264.8" cy="63.6" r="12" fill="#22cfd4" stroke="#0e5f60" stroke-width="0.9"/><circle cx="265.8" cy="63.6" r="9" fill="none" stroke="#108a90" stroke-width="0.8"/><circle cx="268.8" cy="62.6" r="6.5" fill="#a9a6e6"/><circle cx="267.3" cy="63.1" r="5.5" fill="#3fe3e8"/></g></g>
<path d="M848,944 q2,-8 9,-6 q6,3 0,9 l-5,4z" fill="#2a2645" stroke="#6a66a0" stroke-width="0.8"/>
<path d="M1021.7,1141.2 L1118.6,1082.6" stroke="#27234a" stroke-width="14" stroke-linecap="round"/>
<path d="M1021.7,1141.2 L1118.6,1082.6" stroke="#5f59a0" stroke-width="12" stroke-linecap="round"/>
<path d="M1019.6,1137.3 L1116.5,1078.7" stroke="#3e3866" stroke-width="3" stroke-linecap="round"/>
<path d="M1024.5,1145.8 L1121.5,1087" stroke="#8a84c8" stroke-width="1"/>
<polygon points="1025.9,1067.3 1039.7,1059.8 1052.8,1065.6 1064.8,1066.4 1104.9,1041.9 1104.9,1023.3 1118,1016.8 1133.6,1025.4 1126.4,1045.5 1075,1071.8 1041.5,1075.6" fill="#5e5e5e" stroke="#1a1a1a" stroke-width="0.7"/>
<polygon points="1104.9,1023.3 1118.7,1031 1118.7,1040.5 1104.9,1041.9" fill="#3c3c3c" stroke="#1a1a1a" stroke-width="0.6"/>
<polygon points="1025.9,1067.6 1041.5,1075.6 1075,1071.8 1126.4,1045.5 1126.4,1056.2 1075,1085.6 1041.5,1089.8 1025.9,1081.4" fill="#474747" stroke="#1a1a1a" stroke-width="0.7"/>
<polygon points="1025.9,1067.6 1041.5,1075.6 1041.5,1089.8 1025.9,1081.4" fill="#353535" stroke="#1a1a1a" stroke-width="0.6"/>
<polygon points="1126.4,1045.5 1133.6,1025.4 1134.2,1035.9 1126.4,1056.2" fill="#2e2e2e" stroke="#1a1a1a" stroke-width="0.6"/>
<ellipse cx="1049.5" cy="1081" rx="5" ry="4" fill="#6a6a6a" stroke="#111" stroke-width="0.8"/>
<polygon points="1003,1035 1010,1031 1018,1035 1018,1045 1010,1049 1003,1045" fill="#b88a30" stroke="#5a4010" stroke-width="0.6"/><polygon points="1003,1035 1010,1031 1018,1035 1010,1039" fill="#e0b050"/><circle cx="1022" cy="1046" r="7" fill="url(#brass)" stroke="#5a4010" stroke-width="0.6"/><circle cx="1022" cy="1046" r="3.6" fill="#caa050" stroke="#4a3010" stroke-width="0.8"/><circle cx="1022" cy="1046" r="1.5" fill="#5a4010"/>
<polygon points="1017,1027 1024,1023 1032,1027 1032,1037 1024,1041 1017,1037" fill="#b88a30" stroke="#5a4010" stroke-width="0.6"/><polygon points="1017,1027 1024,1023 1032,1027 1024,1031" fill="#e0b050"/><circle cx="1036" cy="1038" r="7" fill="url(#brass)" stroke="#5a4010" stroke-width="0.6"/><circle cx="1036" cy="1038" r="3.6" fill="#caa050" stroke="#4a3010" stroke-width="0.8"/><circle cx="1036" cy="1038" r="1.5" fill="#5a4010"/>
<path d="M1353.9,767.7 L1333.2,767.7 L1312.5,795.5 L1312.5,866.1 L1333.2,894.0 L1353.9,894.0Z M1353.9,789.0 L1335.0,789.0 L1327.6,799.0 L1327.6,864.0 L1335.0,874.3 L1353.9,874.3Z" fill="#5c5c5c" fill-rule="evenodd" stroke="#141420" stroke-width="1.3"/>
<path d="M1766.3,767.7 L1787.0,767.7 L1807.7,795.5 L1807.7,866.1 L1787.0,894.0 L1766.3,894.0Z M1766.3,789.0 L1785.2,789.0 L1792.6,799.0 L1792.6,864.0 L1785.2,874.3 L1766.3,874.3Z" fill="#5c5c5c" fill-rule="evenodd" stroke="#141420" stroke-width="1.3"/>
<rect x="1353.9" y="738.8" width="412.4" height="183.1" fill="#6a6399" stroke="#141420" stroke-width="1.5"/>
<rect x="1367.7" y="922.5" width="134.5" height="16.5" fill="url(#flg)" stroke="#141420" stroke-width="1"/>
<rect x="1367.7" y="1058.6" width="134.5" height="16.4" fill="url(#flg)" stroke="#141420" stroke-width="1"/>
<rect x="1617.7" y="922.5" width="134.5" height="16.5" fill="url(#flg)" stroke="#141420" stroke-width="1"/>
<rect x="1617.7" y="1058.6" width="134.5" height="16.4" fill="url(#flg)" stroke="#141420" stroke-width="1"/>
<circle cx="1434.9" cy="818.5" r="67.5" fill="#86d6ac" stroke="#141420" stroke-width="1.3"/>
<circle cx="1434.9" cy="818.5" r="65" fill="none" stroke="#17acb4" stroke-width="4.6"/>
<circle cx="1434.9" cy="818.5" r="62.4" fill="none" stroke="#141420" stroke-width="0.9"/>
<circle cx="1434.9" cy="818.5" r="42.8" fill="none" stroke="#17acb4" stroke-width="5"/>
<circle cx="1434.9" cy="818.5" r="45.6" fill="none" stroke="#141420" stroke-width="0.9"/><circle cx="1434.9" cy="818.5" r="40" fill="none" stroke="#141420" stroke-width="0.9"/>
<circle cx="1434.9" cy="818.5" r="14.7" fill="#6a6399" stroke="#141420" stroke-width="1.1"/>
<circle cx="1487.6" cy="818.5" r="7.2" fill="#17acb4" stroke="#141420" stroke-width="1.1"/><circle cx="1487.6" cy="818.5" r="4.3" fill="#6a6399" stroke="#141420" stroke-width="0.8"/>
<circle cx="1472.2" cy="855.8" r="7.2" fill="#17acb4" stroke="#141420" stroke-width="1.1"/><circle cx="1472.2" cy="855.8" r="4.3" fill="#6a6399" stroke="#141420" stroke-width="0.8"/>
<circle cx="1434.9" cy="871.2" r="7.2" fill="#17acb4" stroke="#141420" stroke-width="1.1"/><circle cx="1434.9" cy="871.2" r="4.3" fill="#6a6399" stroke="#141420" stroke-width="0.8"/>
<circle cx="1397.6" cy="855.8" r="7.2" fill="#17acb4" stroke="#141420" stroke-width="1.1"/><circle cx="1397.6" cy="855.8" r="4.3" fill="#6a6399" stroke="#141420" stroke-width="0.8"/>
<circle cx="1382.2" cy="818.5" r="7.2" fill="#17acb4" stroke="#141420" stroke-width="1.1"/><circle cx="1382.2" cy="818.5" r="4.3" fill="#6a6399" stroke="#141420" stroke-width="0.8"/>
<circle cx="1397.6" cy="781.2" r="7.2" fill="#17acb4" stroke="#141420" stroke-width="1.1"/><circle cx="1397.6" cy="781.2" r="4.3" fill="#6a6399" stroke="#141420" stroke-width="0.8"/>
<circle cx="1434.9" cy="765.8" r="7.2" fill="#17acb4" stroke="#141420" stroke-width="1.1"/><circle cx="1434.9" cy="765.8" r="4.3" fill="#6a6399" stroke="#141420" stroke-width="0.8"/>
<circle cx="1472.2" cy="781.2" r="7.2" fill="#17acb4" stroke="#141420" stroke-width="1.1"/><circle cx="1472.2" cy="781.2" r="4.3" fill="#6a6399" stroke="#141420" stroke-width="0.8"/>
<circle cx="1684.9" cy="818.5" r="67.5" fill="#86d6ac" stroke="#141420" stroke-width="1.3"/>
<circle cx="1684.9" cy="818.5" r="65" fill="none" stroke="#17acb4" stroke-width="4.6"/>
<circle cx="1684.9" cy="818.5" r="62.4" fill="none" stroke="#141420" stroke-width="0.9"/>
<circle cx="1684.9" cy="818.5" r="42.8" fill="none" stroke="#17acb4" stroke-width="5"/>
<circle cx="1684.9" cy="818.5" r="45.6" fill="none" stroke="#141420" stroke-width="0.9"/><circle cx="1684.9" cy="818.5" r="40" fill="none" stroke="#141420" stroke-width="0.9"/>
<circle cx="1684.9" cy="818.5" r="14.7" fill="#6a6399" stroke="#141420" stroke-width="1.1"/>
<circle cx="1737.6" cy="818.5" r="7.2" fill="#17acb4" stroke="#141420" stroke-width="1.1"/><circle cx="1737.6" cy="818.5" r="4.3" fill="#6a6399" stroke="#141420" stroke-width="0.8"/>
<circle cx="1722.2" cy="855.8" r="7.2" fill="#17acb4" stroke="#141420" stroke-width="1.1"/><circle cx="1722.2" cy="855.8" r="4.3" fill="#6a6399" stroke="#141420" stroke-width="0.8"/>
<circle cx="1684.9" cy="871.2" r="7.2" fill="#17acb4" stroke="#141420" stroke-width="1.1"/><circle cx="1684.9" cy="871.2" r="4.3" fill="#6a6399" stroke="#141420" stroke-width="0.8"/>
<circle cx="1647.6" cy="855.8" r="7.2" fill="#17acb4" stroke="#141420" stroke-width="1.1"/><circle cx="1647.6" cy="855.8" r="4.3" fill="#6a6399" stroke="#141420" stroke-width="0.8"/>
<circle cx="1632.2" cy="818.5" r="7.2" fill="#17acb4" stroke="#141420" stroke-width="1.1"/><circle cx="1632.2" cy="818.5" r="4.3" fill="#6a6399" stroke="#141420" stroke-width="0.8"/>
<circle cx="1647.6" cy="781.2" r="7.2" fill="#17acb4" stroke="#141420" stroke-width="1.1"/><circle cx="1647.6" cy="781.2" r="4.3" fill="#6a6399" stroke="#141420" stroke-width="0.8"/>
<circle cx="1684.9" cy="765.8" r="7.2" fill="#17acb4" stroke="#141420" stroke-width="1.1"/><circle cx="1684.9" cy="765.8" r="4.3" fill="#6a6399" stroke="#141420" stroke-width="0.8"/>
<circle cx="1722.2" cy="781.2" r="7.2" fill="#17acb4" stroke="#141420" stroke-width="1.1"/><circle cx="1722.2" cy="781.2" r="4.3" fill="#6a6399" stroke="#141420" stroke-width="0.8"/>
<path d="M1556.3,921.9 V912 a5,5 0 0 1 10,0 V921.9" fill="#6a6399" stroke="#141420" stroke-width="1.2"/>
<rect x="1767" y="891" width="6" height="14" fill="url(#brass)"/><rect x="1773" y="890" width="16" height="16" rx="4" fill="url(#brass)"/>
<rect x="1767" y="907" width="6" height="14" fill="url(#brass)"/><rect x="1773" y="906" width="16" height="16" rx="4" fill="url(#brass)"/>
<line x1="1243.0" y1="738.8" x2="1353.9" y2="738.8" stroke="#2a3a4c" stroke-width="1.0" />
<line x1="1766.3" y1="738.8" x2="1830.0" y2="738.8" stroke="#2a3a4c" stroke-width="1.0" />
<line x1="1277.0" y1="922.9" x2="1353.9" y2="922.9" stroke="#2a3a4c" stroke-width="1.0" />
<line x1="1243.0" y1="939.0" x2="1367.7" y2="939.0" stroke="#2a3a4c" stroke-width="1.0" />
<line x1="1684.9" y1="818.5" x2="1830.0" y2="818.5" stroke="#2a3a4c" stroke-width="1.0" />
<line x1="1249.5" y1="829.8" x2="1249.5" y2="738.8" stroke="#2a3a4c" stroke-width="1" marker-end="url(#ar)"/>
<line x1="1249.5" y1="849.8" x2="1249.5" y2="939.0" stroke="#2a3a4c" stroke-width="1" marker-end="url(#ar)"/>
<line x1="1284.0" y1="821.6" x2="1284.0" y2="738.8" stroke="#2a3a4c" stroke-width="1" marker-end="url(#ar)"/>
<line x1="1284.0" y1="841.6" x2="1284.0" y2="922.9" stroke="#2a3a4c" stroke-width="1" marker-end="url(#ar)"/>
<line x1="1823.7" y1="769.1" x2="1823.7" y2="738.8" stroke="#2a3a4c" stroke-width="1" marker-end="url(#ar)"/>
<line x1="1823.7" y1="789.1" x2="1823.7" y2="818.5" stroke="#2a3a4c" stroke-width="1" marker-end="url(#ar)"/>
<line x1="1556.3" y1="921.9" x2="1556.3" y2="944.0" stroke="#2a3a4c" stroke-width="1.0" />
<line x1="1566.3" y1="921.9" x2="1566.3" y2="944.0" stroke="#2a3a4c" stroke-width="1.0" />
<line x1="1524.0" y1="937.6" x2="1556.3" y2="937.6" stroke="#2a3a4c" stroke-width="1" marker-end="url(#ar)"/>
<line x1="1586.0" y1="937.6" x2="1566.3" y2="937.6" stroke="#2a3a4c" stroke-width="1" marker-end="url(#ar)"/>
<line x1="1353.9" y1="921.9" x2="1353.9" y2="986.0" stroke="#2a3a4c" stroke-width="1.0" />
<line x1="1766.3" y1="921.9" x2="1766.3" y2="986.0" stroke="#2a3a4c" stroke-width="1.0" />
<line x1="1434.9" y1="818.5" x2="1434.9" y2="963.0" stroke="#2a3a4c" stroke-width="1.0" />
<line x1="1684.9" y1="818.5" x2="1684.9" y2="963.0" stroke="#2a3a4c" stroke-width="1.0" />
<line x1="1434.9" y1="958.0" x2="1544.3" y2="958.0" stroke="#2a3a4c" stroke-width="1" marker-start="url(#arS)"/>
<line x1="1576.3" y1="958.0" x2="1684.9" y2="958.0" stroke="#2a3a4c" stroke-width="1" marker-end="url(#ar)"/>
<line x1="1353.9" y1="980.3" x2="1544.3" y2="980.3" stroke="#2a3a4c" stroke-width="1" marker-start="url(#arS)"/>
<line x1="1576.3" y1="980.3" x2="1766.3" y2="980.3" stroke="#2a3a4c" stroke-width="1" marker-end="url(#ar)"/>
<rect x="1312.9" y="1140.3" width="41" height="18.1" fill="#555" stroke="#141420" stroke-width="1.2"/>
<ellipse cx="1322.9" cy="1149.3" rx="5" ry="7" fill="#333" stroke="#888" stroke-width="1"/>
<rect x="1766.3" y="1140.3" width="41" height="18.1" fill="#555" stroke="#141420" stroke-width="1.2"/>
<ellipse cx="1797.3" cy="1149.3" rx="5" ry="7" fill="#333" stroke="#888" stroke-width="1"/>
<rect x="1353.9" y="1075" width="412.4" height="184.5" fill="#6a6399" stroke="#141420" stroke-width="1.5"/>
<circle cx="1434.9" cy="1154.5" r="67.5" fill="#86d6ac" stroke="#141420" stroke-width="1.3"/>
<circle cx="1434.9" cy="1154.5" r="65" fill="none" stroke="#17acb4" stroke-width="4.6"/>
<circle cx="1434.9" cy="1154.5" r="62.4" fill="none" stroke="#141420" stroke-width="0.9"/>
<circle cx="1434.9" cy="1154.5" r="42.8" fill="none" stroke="#17acb4" stroke-width="5"/>
<circle cx="1434.9" cy="1154.5" r="45.6" fill="none" stroke="#141420" stroke-width="0.9"/><circle cx="1434.9" cy="1154.5" r="40" fill="none" stroke="#141420" stroke-width="0.9"/>
<circle cx="1434.9" cy="1154.5" r="14.7" fill="#6a6399" stroke="#141420" stroke-width="1.1"/>
<circle cx="1483.6" cy="1174.7" r="7.2" fill="#17acb4" stroke="#141420" stroke-width="1.1"/><circle cx="1483.6" cy="1174.7" r="4.3" fill="#6a6399" stroke="#141420" stroke-width="0.8"/>
<circle cx="1455.1" cy="1203.2" r="7.2" fill="#17acb4" stroke="#141420" stroke-width="1.1"/><circle cx="1455.1" cy="1203.2" r="4.3" fill="#6a6399" stroke="#141420" stroke-width="0.8"/>
<circle cx="1414.7" cy="1203.2" r="7.2" fill="#17acb4" stroke="#141420" stroke-width="1.1"/><circle cx="1414.7" cy="1203.2" r="4.3" fill="#6a6399" stroke="#141420" stroke-width="0.8"/>
<circle cx="1386.2" cy="1174.7" r="7.2" fill="#17acb4" stroke="#141420" stroke-width="1.1"/><circle cx="1386.2" cy="1174.7" r="4.3" fill="#6a6399" stroke="#141420" stroke-width="0.8"/>
<circle cx="1386.2" cy="1134.3" r="7.2" fill="#17acb4" stroke="#141420" stroke-width="1.1"/><circle cx="1386.2" cy="1134.3" r="4.3" fill="#6a6399" stroke="#141420" stroke-width="0.8"/>
<circle cx="1414.7" cy="1105.8" r="7.2" fill="#17acb4" stroke="#141420" stroke-width="1.1"/><circle cx="1414.7" cy="1105.8" r="4.3" fill="#6a6399" stroke="#141420" stroke-width="0.8"/>
<circle cx="1455.1" cy="1105.8" r="7.2" fill="#17acb4" stroke="#141420" stroke-width="1.1"/><circle cx="1455.1" cy="1105.8" r="4.3" fill="#6a6399" stroke="#141420" stroke-width="0.8"/>
<circle cx="1483.6" cy="1134.3" r="7.2" fill="#17acb4" stroke="#141420" stroke-width="1.1"/><circle cx="1483.6" cy="1134.3" r="4.3" fill="#6a6399" stroke="#141420" stroke-width="0.8"/>
<circle cx="1684.9" cy="1154.5" r="67.5" fill="#86d6ac" stroke="#141420" stroke-width="1.3"/>
<circle cx="1684.9" cy="1154.5" r="65" fill="none" stroke="#17acb4" stroke-width="4.6"/>
<circle cx="1684.9" cy="1154.5" r="62.4" fill="none" stroke="#141420" stroke-width="0.9"/>
<circle cx="1684.9" cy="1154.5" r="42.8" fill="none" stroke="#17acb4" stroke-width="5"/>
<circle cx="1684.9" cy="1154.5" r="45.6" fill="none" stroke="#141420" stroke-width="0.9"/><circle cx="1684.9" cy="1154.5" r="40" fill="none" stroke="#141420" stroke-width="0.9"/>
<circle cx="1684.9" cy="1154.5" r="14.7" fill="#6a6399" stroke="#141420" stroke-width="1.1"/>
<circle cx="1733.6" cy="1174.7" r="7.2" fill="#17acb4" stroke="#141420" stroke-width="1.1"/><circle cx="1733.6" cy="1174.7" r="4.3" fill="#6a6399" stroke="#141420" stroke-width="0.8"/>
<circle cx="1705.1" cy="1203.2" r="7.2" fill="#17acb4" stroke="#141420" stroke-width="1.1"/><circle cx="1705.1" cy="1203.2" r="4.3" fill="#6a6399" stroke="#141420" stroke-width="0.8"/>
<circle cx="1664.7" cy="1203.2" r="7.2" fill="#17acb4" stroke="#141420" stroke-width="1.1"/><circle cx="1664.7" cy="1203.2" r="4.3" fill="#6a6399" stroke="#141420" stroke-width="0.8"/>
<circle cx="1636.2" cy="1174.7" r="7.2" fill="#17acb4" stroke="#141420" stroke-width="1.1"/><circle cx="1636.2" cy="1174.7" r="4.3" fill="#6a6399" stroke="#141420" stroke-width="0.8"/>
<circle cx="1636.2" cy="1134.3" r="7.2" fill="#17acb4" stroke="#141420" stroke-width="1.1"/><circle cx="1636.2" cy="1134.3" r="4.3" fill="#6a6399" stroke="#141420" stroke-width="0.8"/>
<circle cx="1664.7" cy="1105.8" r="7.2" fill="#17acb4" stroke="#141420" stroke-width="1.1"/><circle cx="1664.7" cy="1105.8" r="4.3" fill="#6a6399" stroke="#141420" stroke-width="0.8"/>
<circle cx="1705.1" cy="1105.8" r="7.2" fill="#17acb4" stroke="#141420" stroke-width="1.1"/><circle cx="1705.1" cy="1105.8" r="4.3" fill="#6a6399" stroke="#141420" stroke-width="0.8"/>
<circle cx="1733.6" cy="1134.3" r="7.2" fill="#17acb4" stroke="#141420" stroke-width="1.1"/><circle cx="1733.6" cy="1134.3" r="4.3" fill="#6a6399" stroke="#141420" stroke-width="0.8"/>
<rect x="1554.7" y="1075" width="11.5" height="9" fill="#6a6399" stroke="#141420" stroke-width="1.2"/>
<rect x="1767" y="1086" width="7" height="13" fill="url(#brass)"/><rect x="1773" y="1084" width="18" height="18" rx="4" fill="url(#brass)"/>
<line x1="1434.9" y1="1032.0" x2="1434.9" y2="1154.5" stroke="#2a3a4c" stroke-width="1.0" />
<line x1="1684.9" y1="1032.0" x2="1684.9" y2="1154.5" stroke="#2a3a4c" stroke-width="1.0" />
<line x1="1434.9" y1="1038.6" x2="1544.3" y2="1038.6" stroke="#2a3a4c" stroke-width="1" marker-start="url(#arS)"/>
<line x1="1576.3" y1="1038.6" x2="1684.9" y2="1038.6" stroke="#2a3a4c" stroke-width="1" marker-end="url(#ar)"/>
<line x1="1752.0" y1="1058.6" x2="1833.0" y2="1058.6" stroke="#2a3a4c" stroke-width="1.0" />
<line x1="1766.3" y1="1259.5" x2="1833.0" y2="1259.5" stroke="#2a3a4c" stroke-width="1.0" />
<line x1="1827.0" y1="1149.4" x2="1827.0" y2="1058.6" stroke="#2a3a4c" stroke-width="1" marker-end="url(#ar)"/>
<line x1="1827.0" y1="1169.4" x2="1827.0" y2="1259.5" stroke="#2a3a4c" stroke-width="1" marker-end="url(#ar)"/>
<line x1="1265.0" y1="1075.0" x2="1353.9" y2="1075.0" stroke="#2a3a4c" stroke-width="1.0" />
<line x1="1265.0" y1="1259.5" x2="1353.9" y2="1259.5" stroke="#2a3a4c" stroke-width="1.0" />
<line x1="1271.5" y1="1156.6" x2="1271.5" y2="1075.0" stroke="#2a3a4c" stroke-width="1" marker-end="url(#ar)"/>
<line x1="1271.5" y1="1176.6" x2="1271.5" y2="1259.5" stroke="#2a3a4c" stroke-width="1" marker-end="url(#ar)"/>
<line x1="1288.0" y1="1154.5" x2="1434.9" y2="1154.5" stroke="#2a3a4c" stroke-width="1.0" />
<line x1="1294.8" y1="1197.0" x2="1294.8" y2="1154.5" stroke="#2a3a4c" stroke-width="1" marker-end="url(#ar)"/>
<line x1="1294.8" y1="1217.0" x2="1294.8" y2="1259.5" stroke="#2a3a4c" stroke-width="1" marker-end="url(#ar)"/>
<text x="349.6" y="69.4" font-family="'Liberation Serif',serif" font-size="19.5" font-weight="700" text-anchor="middle" fill="#000" textLength="277.0" lengthAdjust="spacingAndGlyphs" xml:space="preserve"><tspan font-weight="400" stroke="#000" stroke-width="0.25">PAF-H18</tspan>二中心<tspan font-weight="400" stroke="#000" stroke-width="0.25">90</tspan>度组合卡盘</text>
<text x="349.6" y="92.0" font-family="'Liberation Mono',monospace" font-size="18" text-anchor="middle" fill="#000" textLength="438.7" lengthAdjust="spacingAndGlyphs" stroke="#000" stroke-width="0.35" xml:space="preserve">PAF-H18 Two center 90 degree combination chuck</text>
<text x="920.2" y="68.4" font-family="'Liberation Mono',monospace" font-size="16.8" font-weight="700" text-anchor="middle" fill="#000" textLength="104.3" lengthAdjust="spacingAndGlyphs" xml:space="preserve">产品图片展示</text>
<text x="920.2" y="89.5" font-family="'Liberation Mono',monospace" font-size="17.5" text-anchor="middle" fill="#000" textLength="202.0" lengthAdjust="spacingAndGlyphs" stroke="#000" stroke-width="0.3" xml:space="preserve">Product picture display</text>
<text x="1527.5" y="68.6" font-family="'Liberation Mono',monospace" font-size="16.8" font-weight="700" text-anchor="middle" fill="#000" textLength="85.9" lengthAdjust="spacingAndGlyphs" xml:space="preserve">产品尺寸图</text>
<text x="1527.5" y="89.5" font-family="'Liberation Mono',monospace" font-size="17.5" text-anchor="middle" fill="#000" textLength="175.8" lengthAdjust="spacingAndGlyphs" stroke="#000" stroke-width="0.3" xml:space="preserve">Product size drawing</text>
<text x="19.4" y="128.2" font-family="'Liberation Mono',monospace" font-size="18" text-anchor="start" fill="#000" textLength="120.7" lengthAdjust="spacingAndGlyphs" xml:space="preserve">产品型号/名称</text>
<text x="19.4" y="149.8" font-family="'Liberation Mono',monospace" font-size="18" text-anchor="start" fill="#000" textLength="119.5" lengthAdjust="spacingAndGlyphs" xml:space="preserve">Product model</text>
<text x="19.4" y="186.6" font-family="'Liberation Mono',monospace" font-size="18" text-anchor="start" fill="#000" textLength="101.9" lengthAdjust="spacingAndGlyphs" xml:space="preserve">规 格 尺 寸</text>
<text x="19.4" y="208.2" font-family="'Liberation Mono',monospace" font-size="18" text-anchor="start" fill="#000" textLength="119.5" lengthAdjust="spacingAndGlyphs" xml:space="preserve">Size and size</text>
<text x="19.4" y="245.0" font-family="'Liberation Mono',monospace" font-size="18" text-anchor="start" fill="#000" textLength="101.9" lengthAdjust="spacingAndGlyphs" xml:space="preserve">主 要 材 质</text>
<text x="19.4" y="266.6" font-family="'Liberation Mono',monospace" font-size="18" text-anchor="start" fill="#000" textLength="119.5" lengthAdjust="spacingAndGlyphs" xml:space="preserve">Main material</text>
<text x="19.4" y="303.7" font-family="'Liberation Mono',monospace" font-size="18" text-anchor="start" fill="#000" textLength="157.5" lengthAdjust="spacingAndGlyphs" xml:space="preserve">重 复 定 位 精 度</text>
<text x="19.4" y="325.3" font-family="'Liberation Mono',monospace" font-size="18" text-anchor="start" fill="#000" textLength="184.4" lengthAdjust="spacingAndGlyphs" xml:space="preserve">positioning accuracy</text>
<text x="19.4" y="362.5" font-family="'Liberation Mono',monospace" font-size="18" text-anchor="start" fill="#000" textLength="101.9" lengthAdjust="spacingAndGlyphs" xml:space="preserve">使 用 压 力</text>
<text x="19.4" y="384.1" font-family="'Liberation Mono',monospace" font-size="18" text-anchor="start" fill="#000" textLength="127.0" lengthAdjust="spacingAndGlyphs" xml:space="preserve">Use of pressure</text>
<text x="19.4" y="424.8" font-family="'Liberation Mono',monospace" font-size="18" text-anchor="start" fill="#000" textLength="72.7" lengthAdjust="spacingAndGlyphs" xml:space="preserve">拉 紧 力</text>
<text x="19.4" y="446.4" font-family="'Liberation Mono',monospace" font-size="18" text-anchor="start" fill="#000" textLength="119.5" lengthAdjust="spacingAndGlyphs" xml:space="preserve">tension force</text>
<text x="19.4" y="494.5" font-family="'Liberation Mono',monospace" font-size="18" text-anchor="start" fill="#000" textLength="129.5" lengthAdjust="spacingAndGlyphs" xml:space="preserve">夹 紧 力 可 达</text>
<text x="19.4" y="516.1" font-family="'Liberation Mono',monospace" font-size="18" text-anchor="start" fill="#000" textLength="128.8" lengthAdjust="spacingAndGlyphs" xml:space="preserve">Clamping force</text>
<text x="19.4" y="560.9" font-family="'Liberation Mono',monospace" font-size="18" text-anchor="start" fill="#000" textLength="101.2" lengthAdjust="spacingAndGlyphs" xml:space="preserve">主 体 调 质</text>
<text x="19.4" y="582.5" font-family="'Liberation Mono',monospace" font-size="18" text-anchor="start" fill="#000" textLength="202.9" lengthAdjust="spacingAndGlyphs" xml:space="preserve">Main body conditioning</text>
<text x="19.4" y="625.4" font-family="'Liberation Mono',monospace" font-size="18" text-anchor="start" fill="#000" textLength="45.0" lengthAdjust="spacingAndGlyphs" xml:space="preserve">应 用</text>
<text x="19.4" y="647.0" font-family="'Liberation Mono',monospace" font-size="18" text-anchor="start" fill="#000" textLength="101.0" lengthAdjust="spacingAndGlyphs" xml:space="preserve">application</text>
<text x="273.5" y="126.9" font-family="'Liberation Serif',serif" font-size="17" text-anchor="start" fill="#2e2e2e" textLength="95.0" lengthAdjust="spacingAndGlyphs" xml:space="preserve">RL-H18-90-L</text>
<text x="273.5" y="148.4" font-family="'Liberation Serif',serif" font-size="17" text-anchor="start" fill="#2e2e2e" textLength="190.0" lengthAdjust="spacingAndGlyphs" xml:space="preserve">H18-90度二中心组合卡盘</text>
<text x="273.5" y="197.0" font-family="'Liberation Serif',serif" font-size="20" text-anchor="start" fill="#2e2e2e" textLength="159.3" lengthAdjust="spacingAndGlyphs" xml:space="preserve">425mm*165mm*180mm</text>
<text x="273.5" y="255.6" font-family="'Liberation Serif',serif" font-size="17.8" text-anchor="start" fill="#2e2e2e" textLength="111.7" lengthAdjust="spacingAndGlyphs" xml:space="preserve">马氏体不绣钢</text>
<text x="273.5" y="314.1" font-family="'Liberation Serif',serif" font-size="20" text-anchor="start" fill="#2e2e2e" textLength="65.5" lengthAdjust="spacingAndGlyphs" xml:space="preserve">0.005mm</text>
<text x="273.5" y="372.9" font-family="'Liberation Serif',serif" font-size="20" text-anchor="start" fill="#2e2e2e" textLength="149.7" lengthAdjust="spacingAndGlyphs" xml:space="preserve">0.55MPA～0.85MPA</text>
<text x="273.5" y="435.2" font-family="'Liberation Serif',serif" font-size="19.5" text-anchor="start" fill="#2e2e2e" textLength="37.2" lengthAdjust="spacingAndGlyphs" xml:space="preserve">55KN</text>
<text x="273.5" y="504.9" font-family="'Liberation Serif',serif" font-size="19.5" text-anchor="start" fill="#2e2e2e" textLength="37.2" lengthAdjust="spacingAndGlyphs" xml:space="preserve">17KN</text>
<text x="273.5" y="571.5" font-family="'Liberation Serif',serif" font-size="17.8" text-anchor="start" fill="#2e2e2e" textLength="232.5" lengthAdjust="spacingAndGlyphs" xml:space="preserve">真空热处理HRC60° ～HRC62°</text>
<text x="273.8" y="613.1" font-family="'Liberation Mono',monospace" font-size="17.5" text-anchor="start" fill="#2e2e2e" textLength="375.0" lengthAdjust="spacingAndGlyphs" xml:space="preserve">快速高精度夹具，零件或者设备部件快速换装</text>
<text x="273.8" y="635.2" font-family="'Liberation Mono',monospace" font-size="17.5" text-anchor="start" fill="#000" textLength="375.0" lengthAdjust="spacingAndGlyphs" xml:space="preserve">Rapid and high-precisionfixture,parts or</text>
<text x="273.8" y="658.0" font-family="'Liberation Mono',monospace" font-size="17.5" text-anchor="start" fill="#000" textLength="308.0" lengthAdjust="spacingAndGlyphs" xml:space="preserve">equipmentparts quick replacement.</text>
<text x="349.6" y="689.9" font-family="'Liberation Serif',serif" font-size="19.5" font-weight="700" text-anchor="middle" fill="#000" textLength="277.0" lengthAdjust="spacingAndGlyphs" xml:space="preserve"><tspan font-weight="400" stroke="#000" stroke-width="0.25">PAF-H18</tspan>四中心立体零点卡盘</text>
<text x="349.6" y="714.0" font-family="'Liberation Mono',monospace" font-size="21" text-anchor="middle" fill="#000" textLength="415.0" lengthAdjust="spacingAndGlyphs" stroke="#000" stroke-width="0.35" xml:space="preserve">PAF-H18 Four center stereo zero chuck</text>
<text x="920.2" y="688.9" font-family="'Liberation Mono',monospace" font-size="16.8" font-weight="700" text-anchor="middle" fill="#000" textLength="104.3" lengthAdjust="spacingAndGlyphs" xml:space="preserve">产品图片展示</text>
<text x="920.2" y="710.0" font-family="'Liberation Mono',monospace" font-size="17.5" text-anchor="middle" fill="#000" textLength="202.0" lengthAdjust="spacingAndGlyphs" stroke="#000" stroke-width="0.3" xml:space="preserve">Product picture display</text>
<text x="1527.5" y="689.1" font-family="'Liberation Mono',monospace" font-size="16.8" font-weight="700" text-anchor="middle" fill="#000" textLength="85.9" lengthAdjust="spacingAndGlyphs" xml:space="preserve">产品尺寸图</text>
<text x="1527.5" y="710.0" font-family="'Liberation Mono',monospace" font-size="17.5" text-anchor="middle" fill="#000" textLength="175.8" lengthAdjust="spacingAndGlyphs" stroke="#000" stroke-width="0.3" xml:space="preserve">Product size drawing</text>
<text x="19.4" y="748.5" font-family="'Liberation Mono',monospace" font-size="18" text-anchor="start" fill="#000" textLength="120.7" lengthAdjust="spacingAndGlyphs" xml:space="preserve">产品型号/名称</text>
<text x="19.4" y="770.1" font-family="'Liberation Mono',monospace" font-size="18" text-anchor="start" fill="#000" textLength="119.5" lengthAdjust="spacingAndGlyphs" xml:space="preserve">Product model</text>
<text x="19.4" y="807.3" font-family="'Liberation Mono',monospace" font-size="18" text-anchor="start" fill="#000" textLength="101.9" lengthAdjust="spacingAndGlyphs" xml:space="preserve">规 格 尺 寸</text>
<text x="19.4" y="828.9" font-family="'Liberation Mono',monospace" font-size="18" text-anchor="start" fill="#000" textLength="119.5" lengthAdjust="spacingAndGlyphs" xml:space="preserve">Size and size</text>
<text x="19.4" y="866.4" font-family="'Liberation Mono',monospace" font-size="18" text-anchor="start" fill="#000" textLength="101.9" lengthAdjust="spacingAndGlyphs" xml:space="preserve">主 要 材 质</text>
<text x="19.4" y="888.0" font-family="'Liberation Mono',monospace" font-size="18" text-anchor="start" fill="#000" textLength="119.5" lengthAdjust="spacingAndGlyphs" xml:space="preserve">Main material</text>
<text x="19.4" y="924.9" font-family="'Liberation Mono',monospace" font-size="18" text-anchor="start" fill="#000" textLength="157.5" lengthAdjust="spacingAndGlyphs" xml:space="preserve">重 复 定 位 精 度</text>
<text x="19.4" y="946.5" font-family="'Liberation Mono',monospace" font-size="18" text-anchor="start" fill="#000" textLength="184.4" lengthAdjust="spacingAndGlyphs" xml:space="preserve">positioning accuracy</text>
<text x="19.4" y="983.4" font-family="'Liberation Mono',monospace" font-size="18" text-anchor="start" fill="#000" textLength="101.9" lengthAdjust="spacingAndGlyphs" xml:space="preserve">使 用 压 力</text>
<text x="19.4" y="1005.0" font-family="'Liberation Mono',monospace" font-size="18" text-anchor="start" fill="#000" textLength="127.0" lengthAdjust="spacingAndGlyphs" xml:space="preserve">Use of pressure</text>
<text x="19.4" y="1044.4" font-family="'Liberation Mono',monospace" font-size="18" text-anchor="start" fill="#000" textLength="72.7" lengthAdjust="spacingAndGlyphs" xml:space="preserve">拉 紧 力</text>
<text x="19.4" y="1066.0" font-family="'Liberation Mono',monospace" font-size="18" text-anchor="start" fill="#000" textLength="119.5" lengthAdjust="spacingAndGlyphs" xml:space="preserve">tension force</text>
<text x="19.4" y="1112.2" font-family="'Liberation Mono',monospace" font-size="18" text-anchor="start" fill="#000" textLength="129.5" lengthAdjust="spacingAndGlyphs" xml:space="preserve">夹 紧 力 可 达</text>
<text x="19.4" y="1133.8" font-family="'Liberation Mono',monospace" font-size="18" text-anchor="start" fill="#000" textLength="128.8" lengthAdjust="spacingAndGlyphs" xml:space="preserve">Clamping force</text>
<text x="19.4" y="1178.1" font-family="'Liberation Mono',monospace" font-size="18" text-anchor="start" fill="#000" textLength="101.2" lengthAdjust="spacingAndGlyphs" xml:space="preserve">主 体 调 质</text>
<text x="19.4" y="1199.7" font-family="'Liberation Mono',monospace" font-size="18" text-anchor="start" fill="#000" textLength="202.9" lengthAdjust="spacingAndGlyphs" xml:space="preserve">Main body conditioning</text>
<text x="19.4" y="1243.0" font-family="'Liberation Mono',monospace" font-size="18" text-anchor="start" fill="#000" textLength="45.0" lengthAdjust="spacingAndGlyphs" xml:space="preserve">应 用</text>
<text x="19.4" y="1264.6" font-family="'Liberation Mono',monospace" font-size="18" text-anchor="start" fill="#000" textLength="101.0" lengthAdjust="spacingAndGlyphs" xml:space="preserve">application</text>
<text x="273.5" y="747.1" font-family="'Liberation Serif',serif" font-size="17" text-anchor="start" fill="#2e2e2e" textLength="95.0" lengthAdjust="spacingAndGlyphs" xml:space="preserve">RL-H18-C4-L</text>
<text x="273.5" y="768.6" font-family="'Liberation Serif',serif" font-size="17" text-anchor="start" fill="#2e2e2e" textLength="181.0" lengthAdjust="spacingAndGlyphs" xml:space="preserve">H18四中心立体零点卡盘</text>
<text x="273.5" y="817.7" font-family="'Liberation Serif',serif" font-size="20" text-anchor="start" fill="#2e2e2e" textLength="159.3" lengthAdjust="spacingAndGlyphs" xml:space="preserve">330mm*163mm*163mm</text>
<text x="273.5" y="877.0" font-family="'Liberation Serif',serif" font-size="17.8" text-anchor="start" fill="#2e2e2e" textLength="111.7" lengthAdjust="spacingAndGlyphs" xml:space="preserve">马氏体不绣钢</text>
<text x="273.5" y="935.2" font-family="'Liberation Serif',serif" font-size="20" text-anchor="start" fill="#2e2e2e" textLength="65.5" lengthAdjust="spacingAndGlyphs" xml:space="preserve">0.005mm</text>
<text x="273.5" y="993.8" font-family="'Liberation Serif',serif" font-size="20" text-anchor="start" fill="#2e2e2e" textLength="149.7" lengthAdjust="spacingAndGlyphs" xml:space="preserve">0.55MPA～0.85MPA</text>
<text x="273.5" y="1054.8" font-family="'Liberation Serif',serif" font-size="19.5" text-anchor="start" fill="#2e2e2e" textLength="37.2" lengthAdjust="spacingAndGlyphs" xml:space="preserve">55KN</text>
<text x="273.5" y="1122.6" font-family="'Liberation Serif',serif" font-size="19.5" text-anchor="start" fill="#2e2e2e" textLength="37.2" lengthAdjust="spacingAndGlyphs" xml:space="preserve">17KN</text>
<text x="273.5" y="1188.7" font-family="'Liberation Serif',serif" font-size="17.8" text-anchor="start" fill="#2e2e2e" textLength="232.5" lengthAdjust="spacingAndGlyphs" xml:space="preserve">真空热处理HRC60° ～HRC62°</text>
<text x="273.8" y="1230.3" font-family="'Liberation Mono',monospace" font-size="17.5" text-anchor="start" fill="#2e2e2e" textLength="375.0" lengthAdjust="spacingAndGlyphs" xml:space="preserve">快速高精度夹具，零件或者设备部件快速换装</text>
<text x="273.8" y="1252.4" font-family="'Liberation Mono',monospace" font-size="17.5" text-anchor="start" fill="#000" textLength="375.0" lengthAdjust="spacingAndGlyphs" xml:space="preserve">Rapid and high-precisionfixture,parts or</text>
<text x="273.8" y="1275.2" font-family="'Liberation Mono',monospace" font-size="17.5" text-anchor="start" fill="#000" textLength="308.0" lengthAdjust="spacingAndGlyphs" xml:space="preserve">equipmentparts quick replacement.</text>
<text x="1521.8" y="141.7" font-family="'Liberation Serif',serif" font-size="18.2" text-anchor="middle" fill="#1a2230" textLength="19.2" lengthAdjust="spacingAndGlyphs" xml:space="preserve">260</text>
<text x="1521.8" y="158.0" font-family="'Liberation Serif',serif" font-size="18.2" text-anchor="middle" fill="#1a2230" textLength="19.2" lengthAdjust="spacingAndGlyphs" xml:space="preserve">100</text>
<text x="1245.5" y="262.0" font-family="'Liberation Serif',serif" font-size="18.2" text-anchor="middle" fill="#1a2230" textLength="19.2" lengthAdjust="spacingAndGlyphs" xml:space="preserve">165</text>
<text x="1790.3" y="259.0" font-family="'Liberation Serif',serif" font-size="18.2" text-anchor="middle" fill="#1a2230" textLength="19.2" lengthAdjust="spacingAndGlyphs" xml:space="preserve">160</text>
<text x="1521.8" y="364.9" font-family="'Liberation Serif',serif" font-size="18.2" text-anchor="middle" fill="#1a2230" textLength="19.2" lengthAdjust="spacingAndGlyphs" xml:space="preserve">425</text>
<text x="1262.0" y="319.3" font-family="'Liberation Serif',serif" font-size="15.2" text-anchor="middle" fill="#1a2230" textLength="6.5" lengthAdjust="spacingAndGlyphs" transform="rotate(-90 1262.0 314.3)" xml:space="preserve">5</text>
<text x="1556.0" y="212.0" font-family="'Liberation Serif',serif" font-size="18.2" text-anchor="middle" fill="#1a2230" textLength="33.0" lengthAdjust="spacingAndGlyphs" transform="rotate(55 1556.0 206.0)" xml:space="preserve">Ø12.5</text>
<text x="1605.0" y="209.5" font-family="'Liberation Serif',serif" font-size="18.2" text-anchor="middle" fill="#1a2230" textLength="19.8" lengthAdjust="spacingAndGlyphs" transform="rotate(-55 1605.0 203.5)" xml:space="preserve">Ø20</text>
<text x="1521.8" y="421.7" font-family="'Liberation Serif',serif" font-size="18.2" text-anchor="middle" fill="#1a2230" textLength="19.2" lengthAdjust="spacingAndGlyphs" xml:space="preserve">380</text>
<text x="1521.8" y="438.5" font-family="'Liberation Serif',serif" font-size="18.2" text-anchor="middle" fill="#1a2230" textLength="19.2" lengthAdjust="spacingAndGlyphs" xml:space="preserve">200</text>
<text x="1782.4" y="548.7" font-family="'Liberation Serif',serif" font-size="18.2" text-anchor="middle" fill="#1a2230" textLength="19.2" lengthAdjust="spacingAndGlyphs" xml:space="preserve">180</text>
<text x="1245.4" y="590.0" font-family="'Liberation Serif',serif" font-size="18.2" text-anchor="middle" fill="#1a2230" textLength="19.2" lengthAdjust="spacingAndGlyphs" xml:space="preserve">105</text>
<text x="1261.3" y="630.8" font-family="'Liberation Serif',serif" font-size="16.7" text-anchor="middle" fill="#1a2230" textLength="12.4" lengthAdjust="spacingAndGlyphs" xml:space="preserve">30</text>
<text x="1249.5" y="845.8" font-family="'Liberation Serif',serif" font-size="18.2" text-anchor="middle" fill="#1a2230" textLength="19.2" lengthAdjust="spacingAndGlyphs" xml:space="preserve">163</text>
<text x="1284.0" y="837.6" font-family="'Liberation Serif',serif" font-size="18.2" text-anchor="middle" fill="#1a2230" textLength="19.2" lengthAdjust="spacingAndGlyphs" xml:space="preserve">150</text>
<text x="1823.7" y="785.1" font-family="'Liberation Serif',serif" font-size="18.2" text-anchor="middle" fill="#1a2230" textLength="12.8" lengthAdjust="spacingAndGlyphs" xml:space="preserve">65</text>
<text x="1594.0" y="943.6" font-family="'Liberation Serif',serif" font-size="18.2" text-anchor="middle" fill="#1a2230" textLength="6.5" lengthAdjust="spacingAndGlyphs" xml:space="preserve">8</text>
<text x="1560.3" y="964.0" font-family="'Liberation Serif',serif" font-size="18.2" text-anchor="middle" fill="#1a2230" textLength="19.2" lengthAdjust="spacingAndGlyphs" xml:space="preserve">200</text>
<text x="1560.3" y="986.3" font-family="'Liberation Serif',serif" font-size="18.2" text-anchor="middle" fill="#1a2230" textLength="19.2" lengthAdjust="spacingAndGlyphs" xml:space="preserve">330</text>
<text x="1560.3" y="1044.6" font-family="'Liberation Serif',serif" font-size="18.2" text-anchor="middle" fill="#1a2230" textLength="19.2" lengthAdjust="spacingAndGlyphs" xml:space="preserve">200</text>
<text x="1827.0" y="1165.4" font-family="'Liberation Serif',serif" font-size="18.2" text-anchor="middle" fill="#1a2230" textLength="19.2" lengthAdjust="spacingAndGlyphs" xml:space="preserve">163</text>
<text x="1271.5" y="1172.6" font-family="'Liberation Serif',serif" font-size="18.2" text-anchor="middle" fill="#1a2230" textLength="19.2" lengthAdjust="spacingAndGlyphs" xml:space="preserve">150</text>
<text x="1294.8" y="1213.0" font-family="'Liberation Serif',serif" font-size="18.2" text-anchor="middle" fill="#1a2230" textLength="12.8" lengthAdjust="spacingAndGlyphs" xml:space="preserve">85</text>
</svg></body></html>
